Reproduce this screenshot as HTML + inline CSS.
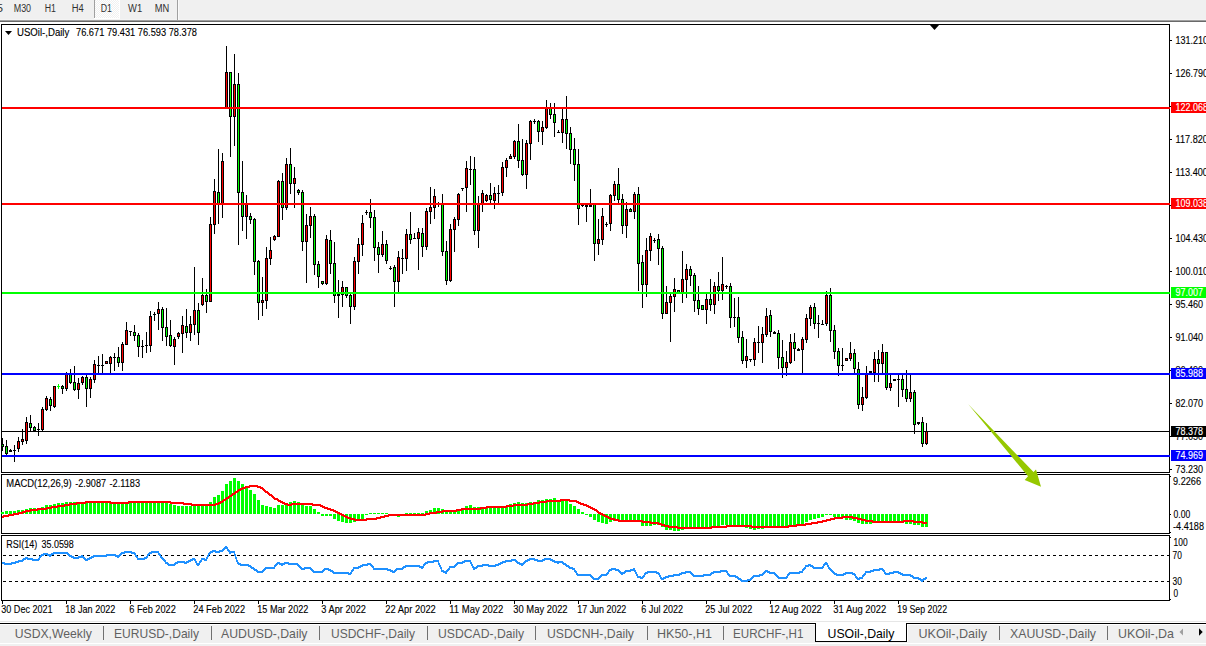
<!DOCTYPE html>
<html><head><meta charset="utf-8"><title>USOil Daily</title>
<style>html,body{margin:0;padding:0;background:#fff;overflow:hidden}body{width:1206px;height:646px;font-family:"Liberation Sans",sans-serif}</style></head>
<body>
<svg width="1206" height="646" viewBox="0 0 1206 646" font-family="Liberation Sans, sans-serif" style="display:block">
<g shape-rendering="crispEdges">
<rect x="0" y="0" width="1206" height="646" fill="#fff"/>
<rect x="0" y="0" width="1206" height="19" fill="#f0f0f0"/>
<rect x="0" y="19" width="1206" height="1" fill="#f4f4f4"/>
<rect x="0" y="20" width="1206" height="1" fill="#a0a0a0"/>
<rect x="0" y="21" width="1206" height="1" fill="#696969"/>
<defs><pattern id="dz" width="2" height="2" patternUnits="userSpaceOnUse"><rect width="2" height="2" fill="#f0f0f0"/><rect width="1" height="1" fill="#fff"/><rect x="1" y="1" width="1" height="1" fill="#fff"/></pattern></defs>
<rect x="95" y="0" width="24" height="18" fill="url(#dz)"/>
<rect x="94" y="18" width="26" height="1" fill="#fff"/>
<rect x="119" y="0" width="1" height="18" fill="#fff"/>
<rect x="94" y="0" width="1" height="18" fill="#a0a0a0"/>
<rect x="177" y="0" width="1" height="20" fill="#a0a0a0"/>
<rect x="178" y="0" width="1" height="20" fill="#fafafa"/>
<rect x="1" y="24" width="1169" height="1" fill="#000"/>
<rect x="1" y="472" width="1169" height="1" fill="#000"/>
<rect x="1" y="24" width="1" height="449" fill="#000"/>
<rect x="1169" y="24" width="1" height="449" fill="#000"/>
<rect x="1" y="474" width="1169" height="1" fill="#000"/>
<rect x="1" y="533" width="1169" height="1" fill="#000"/>
<rect x="1" y="474" width="1" height="60" fill="#000"/>
<rect x="1169" y="474" width="1" height="60" fill="#000"/>
<rect x="1" y="535" width="1169" height="1" fill="#000"/>
<rect x="1" y="600" width="1169" height="1" fill="#000"/>
<rect x="1" y="535" width="1" height="66" fill="#000"/>
<rect x="1169" y="535" width="1" height="66" fill="#000"/>
<rect x="2" y="431" width="1167" height="1" fill="#000"/>
<rect x="2" y="438" width="1" height="13" fill="#000"/>
<rect x="1" y="444" width="3" height="3" fill="#000"/>
<rect x="2" y="445" width="1" height="1" fill="#00ff00"/>
<rect x="6" y="440" width="1" height="15" fill="#000"/>
<rect x="5" y="446" width="3" height="8" fill="#000"/>
<rect x="6" y="447" width="1" height="6" fill="#00ff00"/>
<rect x="10" y="449" width="1" height="3" fill="#000"/>
<rect x="9" y="450" width="3" height="2" fill="#000"/>
<rect x="14" y="445" width="1" height="17" fill="#000"/>
<rect x="13" y="450" width="3" height="1" fill="#000"/>
<rect x="18" y="437" width="1" height="15" fill="#000"/>
<rect x="17" y="441" width="3" height="8" fill="#000"/>
<rect x="18" y="442" width="1" height="6" fill="#ff0000"/>
<rect x="22" y="429" width="1" height="16" fill="#000"/>
<rect x="21" y="439" width="3" height="3" fill="#000"/>
<rect x="22" y="440" width="1" height="1" fill="#ff0000"/>
<rect x="26" y="417" width="1" height="27" fill="#000"/>
<rect x="25" y="422" width="3" height="19" fill="#000"/>
<rect x="26" y="423" width="1" height="17" fill="#ff0000"/>
<rect x="30" y="415" width="1" height="16" fill="#000"/>
<rect x="29" y="423" width="3" height="5" fill="#000"/>
<rect x="30" y="424" width="1" height="3" fill="#00ff00"/>
<rect x="34" y="426" width="1" height="6" fill="#000"/>
<rect x="33" y="427" width="3" height="4" fill="#000"/>
<rect x="34" y="428" width="1" height="2" fill="#00ff00"/>
<rect x="38" y="423" width="1" height="13" fill="#000"/>
<rect x="37" y="429" width="3" height="1" fill="#000"/>
<rect x="42" y="407" width="1" height="24" fill="#000"/>
<rect x="41" y="409" width="3" height="21" fill="#000"/>
<rect x="42" y="410" width="1" height="19" fill="#ff0000"/>
<rect x="46" y="396" width="1" height="15" fill="#000"/>
<rect x="45" y="398" width="3" height="12" fill="#000"/>
<rect x="46" y="399" width="1" height="10" fill="#ff0000"/>
<rect x="50" y="397" width="1" height="14" fill="#000"/>
<rect x="49" y="399" width="3" height="7" fill="#000"/>
<rect x="50" y="400" width="1" height="5" fill="#00ff00"/>
<rect x="54" y="386" width="1" height="22" fill="#000"/>
<rect x="53" y="386" width="3" height="21" fill="#000"/>
<rect x="54" y="387" width="1" height="19" fill="#ff0000"/>
<rect x="58" y="384" width="1" height="5" fill="#00ff00"/>
<rect x="57" y="386" width="3" height="1" fill="#00ff00"/>
<rect x="62" y="385" width="1" height="9" fill="#000"/>
<rect x="61" y="386" width="3" height="3" fill="#000"/>
<rect x="62" y="387" width="1" height="1" fill="#00ff00"/>
<rect x="66" y="372" width="1" height="19" fill="#000"/>
<rect x="65" y="374" width="3" height="15" fill="#000"/>
<rect x="66" y="375" width="1" height="13" fill="#ff0000"/>
<rect x="70" y="369" width="1" height="15" fill="#000"/>
<rect x="69" y="374" width="3" height="9" fill="#000"/>
<rect x="70" y="375" width="1" height="7" fill="#00ff00"/>
<rect x="74" y="366" width="1" height="25" fill="#000"/>
<rect x="73" y="382" width="3" height="8" fill="#000"/>
<rect x="74" y="383" width="1" height="6" fill="#00ff00"/>
<rect x="78" y="378" width="1" height="21" fill="#000"/>
<rect x="77" y="383" width="3" height="7" fill="#000"/>
<rect x="78" y="384" width="1" height="5" fill="#ff0000"/>
<rect x="82" y="376" width="1" height="9" fill="#000"/>
<rect x="81" y="377" width="3" height="6" fill="#000"/>
<rect x="82" y="378" width="1" height="4" fill="#ff0000"/>
<rect x="86" y="374" width="1" height="33" fill="#000"/>
<rect x="85" y="377" width="3" height="12" fill="#000"/>
<rect x="86" y="378" width="1" height="10" fill="#00ff00"/>
<rect x="90" y="377" width="1" height="21" fill="#000"/>
<rect x="89" y="379" width="3" height="10" fill="#000"/>
<rect x="90" y="380" width="1" height="8" fill="#ff0000"/>
<rect x="94" y="360" width="1" height="23" fill="#000"/>
<rect x="93" y="364" width="3" height="16" fill="#000"/>
<rect x="94" y="365" width="1" height="14" fill="#ff0000"/>
<rect x="98" y="356" width="1" height="17" fill="#000"/>
<rect x="97" y="365" width="3" height="1" fill="#000"/>
<rect x="102" y="354" width="1" height="19" fill="#000"/>
<rect x="101" y="365" width="3" height="1" fill="#000"/>
<rect x="106" y="361" width="1" height="3" fill="#000"/>
<rect x="105" y="361" width="3" height="3" fill="#000"/>
<rect x="106" y="362" width="1" height="1" fill="#ff0000"/>
<rect x="110" y="356" width="1" height="17" fill="#000"/>
<rect x="109" y="357" width="3" height="7" fill="#000"/>
<rect x="110" y="358" width="1" height="5" fill="#ff0000"/>
<rect x="114" y="353" width="1" height="18" fill="#000"/>
<rect x="113" y="357" width="3" height="1" fill="#000"/>
<rect x="118" y="347" width="1" height="20" fill="#000"/>
<rect x="117" y="357" width="3" height="6" fill="#000"/>
<rect x="118" y="358" width="1" height="4" fill="#00ff00"/>
<rect x="122" y="342" width="1" height="29" fill="#000"/>
<rect x="121" y="344" width="3" height="19" fill="#000"/>
<rect x="122" y="345" width="1" height="17" fill="#ff0000"/>
<rect x="126" y="322" width="1" height="23" fill="#000"/>
<rect x="125" y="330" width="3" height="15" fill="#000"/>
<rect x="126" y="331" width="1" height="13" fill="#ff0000"/>
<rect x="130" y="331" width="1" height="5" fill="#000"/>
<rect x="129" y="331" width="3" height="1" fill="#000"/>
<rect x="134" y="325" width="1" height="16" fill="#000"/>
<rect x="133" y="332" width="3" height="4" fill="#000"/>
<rect x="134" y="333" width="1" height="2" fill="#00ff00"/>
<rect x="138" y="333" width="1" height="24" fill="#000"/>
<rect x="137" y="335" width="3" height="12" fill="#000"/>
<rect x="138" y="336" width="1" height="10" fill="#00ff00"/>
<rect x="142" y="340" width="1" height="18" fill="#000"/>
<rect x="141" y="346" width="3" height="1" fill="#000"/>
<rect x="146" y="332" width="1" height="21" fill="#000"/>
<rect x="145" y="345" width="3" height="1" fill="#000"/>
<rect x="150" y="311" width="1" height="41" fill="#000"/>
<rect x="149" y="316" width="3" height="30" fill="#000"/>
<rect x="150" y="317" width="1" height="28" fill="#ff0000"/>
<rect x="154" y="312" width="1" height="9" fill="#000"/>
<rect x="153" y="314" width="3" height="1" fill="#000"/>
<rect x="158" y="302" width="1" height="28" fill="#000"/>
<rect x="157" y="309" width="3" height="5" fill="#000"/>
<rect x="158" y="310" width="1" height="3" fill="#ff0000"/>
<rect x="162" y="307" width="1" height="34" fill="#000"/>
<rect x="161" y="309" width="3" height="19" fill="#000"/>
<rect x="162" y="310" width="1" height="17" fill="#00ff00"/>
<rect x="166" y="308" width="1" height="38" fill="#000"/>
<rect x="165" y="327" width="3" height="10" fill="#000"/>
<rect x="166" y="328" width="1" height="8" fill="#00ff00"/>
<rect x="170" y="320" width="1" height="27" fill="#000"/>
<rect x="169" y="335" width="3" height="11" fill="#000"/>
<rect x="170" y="336" width="1" height="9" fill="#00ff00"/>
<rect x="174" y="337" width="1" height="28" fill="#000"/>
<rect x="173" y="339" width="3" height="8" fill="#000"/>
<rect x="174" y="340" width="1" height="6" fill="#ff0000"/>
<rect x="178" y="332" width="1" height="7" fill="#000"/>
<rect x="177" y="333" width="3" height="4" fill="#000"/>
<rect x="178" y="334" width="1" height="2" fill="#ff0000"/>
<rect x="182" y="316" width="1" height="37" fill="#000"/>
<rect x="181" y="325" width="3" height="9" fill="#000"/>
<rect x="182" y="326" width="1" height="7" fill="#ff0000"/>
<rect x="186" y="309" width="1" height="29" fill="#000"/>
<rect x="185" y="326" width="3" height="7" fill="#000"/>
<rect x="186" y="327" width="1" height="5" fill="#00ff00"/>
<rect x="190" y="316" width="1" height="25" fill="#000"/>
<rect x="189" y="324" width="3" height="9" fill="#000"/>
<rect x="190" y="325" width="1" height="7" fill="#ff0000"/>
<rect x="194" y="267" width="1" height="68" fill="#000"/>
<rect x="193" y="310" width="3" height="15" fill="#000"/>
<rect x="194" y="311" width="1" height="13" fill="#ff0000"/>
<rect x="198" y="303" width="1" height="42" fill="#000"/>
<rect x="197" y="310" width="3" height="23" fill="#000"/>
<rect x="198" y="311" width="1" height="21" fill="#00ff00"/>
<rect x="202" y="278" width="1" height="28" fill="#000"/>
<rect x="201" y="295" width="3" height="10" fill="#000"/>
<rect x="202" y="296" width="1" height="8" fill="#ff0000"/>
<rect x="206" y="289" width="1" height="24" fill="#000"/>
<rect x="205" y="295" width="3" height="7" fill="#000"/>
<rect x="206" y="296" width="1" height="5" fill="#00ff00"/>
<rect x="210" y="217" width="1" height="85" fill="#000"/>
<rect x="209" y="224" width="3" height="78" fill="#000"/>
<rect x="210" y="225" width="1" height="76" fill="#ff0000"/>
<rect x="214" y="179" width="1" height="55" fill="#000"/>
<rect x="213" y="191" width="3" height="34" fill="#000"/>
<rect x="214" y="192" width="1" height="32" fill="#ff0000"/>
<rect x="218" y="149" width="1" height="75" fill="#000"/>
<rect x="217" y="192" width="3" height="13" fill="#000"/>
<rect x="218" y="193" width="1" height="11" fill="#00ff00"/>
<rect x="222" y="153" width="1" height="65" fill="#000"/>
<rect x="221" y="161" width="3" height="44" fill="#000"/>
<rect x="222" y="162" width="1" height="42" fill="#ff0000"/>
<rect x="226" y="46" width="1" height="62" fill="#000"/>
<rect x="225" y="72" width="3" height="36" fill="#000"/>
<rect x="226" y="73" width="1" height="34" fill="#ff0000"/>
<rect x="230" y="72" width="1" height="85" fill="#000"/>
<rect x="229" y="72" width="3" height="45" fill="#000"/>
<rect x="230" y="73" width="1" height="43" fill="#00ff00"/>
<rect x="234" y="54" width="1" height="92" fill="#000"/>
<rect x="233" y="84" width="3" height="33" fill="#000"/>
<rect x="234" y="85" width="1" height="31" fill="#ff0000"/>
<rect x="238" y="73" width="1" height="172" fill="#000"/>
<rect x="237" y="84" width="3" height="109" fill="#000"/>
<rect x="238" y="85" width="1" height="107" fill="#00ff00"/>
<rect x="242" y="161" width="1" height="70" fill="#000"/>
<rect x="241" y="192" width="3" height="25" fill="#000"/>
<rect x="242" y="193" width="1" height="23" fill="#00ff00"/>
<rect x="246" y="195" width="1" height="44" fill="#000"/>
<rect x="245" y="204" width="3" height="13" fill="#000"/>
<rect x="246" y="205" width="1" height="11" fill="#ff0000"/>
<rect x="250" y="213" width="1" height="11" fill="#000"/>
<rect x="249" y="216" width="3" height="4" fill="#000"/>
<rect x="250" y="217" width="1" height="2" fill="#00ff00"/>
<rect x="254" y="218" width="1" height="57" fill="#000"/>
<rect x="253" y="219" width="3" height="43" fill="#000"/>
<rect x="254" y="220" width="1" height="41" fill="#00ff00"/>
<rect x="258" y="260" width="1" height="60" fill="#000"/>
<rect x="257" y="261" width="3" height="42" fill="#000"/>
<rect x="258" y="262" width="1" height="40" fill="#00ff00"/>
<rect x="262" y="277" width="1" height="39" fill="#000"/>
<rect x="261" y="300" width="3" height="3" fill="#000"/>
<rect x="262" y="301" width="1" height="1" fill="#ff0000"/>
<rect x="266" y="247" width="1" height="62" fill="#000"/>
<rect x="265" y="258" width="3" height="43" fill="#000"/>
<rect x="266" y="259" width="1" height="41" fill="#ff0000"/>
<rect x="270" y="237" width="1" height="28" fill="#000"/>
<rect x="269" y="250" width="3" height="9" fill="#000"/>
<rect x="270" y="251" width="1" height="7" fill="#ff0000"/>
<rect x="274" y="235" width="1" height="6" fill="#000"/>
<rect x="273" y="236" width="3" height="4" fill="#000"/>
<rect x="274" y="237" width="1" height="2" fill="#ff0000"/>
<rect x="278" y="180" width="1" height="57" fill="#000"/>
<rect x="277" y="181" width="3" height="56" fill="#000"/>
<rect x="278" y="182" width="1" height="54" fill="#ff0000"/>
<rect x="282" y="173" width="1" height="47" fill="#000"/>
<rect x="281" y="181" width="3" height="27" fill="#000"/>
<rect x="282" y="182" width="1" height="25" fill="#00ff00"/>
<rect x="286" y="158" width="1" height="52" fill="#000"/>
<rect x="285" y="164" width="3" height="44" fill="#000"/>
<rect x="286" y="165" width="1" height="42" fill="#ff0000"/>
<rect x="290" y="148" width="1" height="46" fill="#000"/>
<rect x="289" y="164" width="3" height="20" fill="#000"/>
<rect x="290" y="165" width="1" height="18" fill="#00ff00"/>
<rect x="294" y="167" width="1" height="41" fill="#000"/>
<rect x="293" y="178" width="3" height="6" fill="#000"/>
<rect x="294" y="179" width="1" height="4" fill="#ff0000"/>
<rect x="298" y="189" width="1" height="6" fill="#000"/>
<rect x="297" y="190" width="3" height="3" fill="#000"/>
<rect x="298" y="191" width="1" height="1" fill="#00ff00"/>
<rect x="302" y="190" width="1" height="61" fill="#000"/>
<rect x="301" y="192" width="3" height="50" fill="#000"/>
<rect x="302" y="193" width="1" height="48" fill="#00ff00"/>
<rect x="306" y="214" width="1" height="69" fill="#000"/>
<rect x="305" y="225" width="3" height="17" fill="#000"/>
<rect x="306" y="226" width="1" height="15" fill="#ff0000"/>
<rect x="310" y="207" width="1" height="31" fill="#000"/>
<rect x="309" y="216" width="3" height="10" fill="#000"/>
<rect x="310" y="217" width="1" height="8" fill="#ff0000"/>
<rect x="314" y="214" width="1" height="61" fill="#000"/>
<rect x="313" y="216" width="3" height="49" fill="#000"/>
<rect x="314" y="217" width="1" height="47" fill="#00ff00"/>
<rect x="318" y="261" width="1" height="27" fill="#000"/>
<rect x="317" y="264" width="3" height="13" fill="#000"/>
<rect x="318" y="265" width="1" height="11" fill="#00ff00"/>
<rect x="322" y="281" width="1" height="4" fill="#000"/>
<rect x="321" y="281" width="3" height="3" fill="#000"/>
<rect x="322" y="282" width="1" height="1" fill="#00ff00"/>
<rect x="326" y="235" width="1" height="50" fill="#000"/>
<rect x="325" y="239" width="3" height="45" fill="#000"/>
<rect x="326" y="240" width="1" height="43" fill="#ff0000"/>
<rect x="330" y="230" width="1" height="44" fill="#000"/>
<rect x="329" y="240" width="3" height="24" fill="#000"/>
<rect x="330" y="241" width="1" height="22" fill="#00ff00"/>
<rect x="334" y="242" width="1" height="61" fill="#000"/>
<rect x="333" y="263" width="3" height="33" fill="#000"/>
<rect x="334" y="264" width="1" height="31" fill="#00ff00"/>
<rect x="338" y="280" width="1" height="38" fill="#000"/>
<rect x="337" y="294" width="3" height="2" fill="#000"/>
<rect x="342" y="281" width="1" height="26" fill="#000"/>
<rect x="341" y="287" width="3" height="8" fill="#000"/>
<rect x="342" y="288" width="1" height="6" fill="#ff0000"/>
<rect x="346" y="287" width="1" height="11" fill="#000"/>
<rect x="345" y="287" width="3" height="9" fill="#000"/>
<rect x="346" y="288" width="1" height="7" fill="#00ff00"/>
<rect x="350" y="294" width="1" height="30" fill="#000"/>
<rect x="349" y="295" width="3" height="12" fill="#000"/>
<rect x="350" y="296" width="1" height="10" fill="#00ff00"/>
<rect x="354" y="257" width="1" height="53" fill="#000"/>
<rect x="353" y="261" width="3" height="46" fill="#000"/>
<rect x="354" y="262" width="1" height="44" fill="#ff0000"/>
<rect x="358" y="238" width="1" height="36" fill="#000"/>
<rect x="357" y="244" width="3" height="18" fill="#000"/>
<rect x="358" y="245" width="1" height="16" fill="#ff0000"/>
<rect x="362" y="215" width="1" height="41" fill="#000"/>
<rect x="361" y="223" width="3" height="22" fill="#000"/>
<rect x="362" y="224" width="1" height="20" fill="#ff0000"/>
<rect x="366" y="210" width="1" height="5" fill="#000"/>
<rect x="365" y="212" width="3" height="1" fill="#000"/>
<rect x="370" y="199" width="1" height="29" fill="#000"/>
<rect x="369" y="212" width="3" height="6" fill="#000"/>
<rect x="370" y="213" width="1" height="4" fill="#00ff00"/>
<rect x="374" y="210" width="1" height="51" fill="#000"/>
<rect x="373" y="217" width="3" height="31" fill="#000"/>
<rect x="374" y="218" width="1" height="29" fill="#00ff00"/>
<rect x="378" y="242" width="1" height="31" fill="#000"/>
<rect x="377" y="247" width="3" height="8" fill="#000"/>
<rect x="378" y="248" width="1" height="6" fill="#00ff00"/>
<rect x="382" y="231" width="1" height="26" fill="#000"/>
<rect x="381" y="244" width="3" height="11" fill="#000"/>
<rect x="382" y="245" width="1" height="9" fill="#ff0000"/>
<rect x="386" y="240" width="1" height="24" fill="#000"/>
<rect x="385" y="244" width="3" height="17" fill="#000"/>
<rect x="386" y="245" width="1" height="15" fill="#00ff00"/>
<rect x="390" y="266" width="1" height="4" fill="#000"/>
<rect x="389" y="268" width="3" height="1" fill="#000"/>
<rect x="394" y="265" width="1" height="42" fill="#000"/>
<rect x="393" y="267" width="3" height="15" fill="#000"/>
<rect x="394" y="268" width="1" height="13" fill="#00ff00"/>
<rect x="398" y="251" width="1" height="42" fill="#000"/>
<rect x="397" y="257" width="3" height="25" fill="#000"/>
<rect x="398" y="258" width="1" height="23" fill="#ff0000"/>
<rect x="402" y="249" width="1" height="25" fill="#000"/>
<rect x="401" y="258" width="3" height="1" fill="#000"/>
<rect x="406" y="229" width="1" height="42" fill="#000"/>
<rect x="405" y="234" width="3" height="25" fill="#000"/>
<rect x="406" y="235" width="1" height="23" fill="#ff0000"/>
<rect x="410" y="212" width="1" height="32" fill="#000"/>
<rect x="409" y="234" width="3" height="6" fill="#000"/>
<rect x="410" y="235" width="1" height="4" fill="#00ff00"/>
<rect x="414" y="233" width="1" height="6" fill="#000"/>
<rect x="413" y="238" width="3" height="1" fill="#000"/>
<rect x="418" y="228" width="1" height="42" fill="#000"/>
<rect x="417" y="232" width="3" height="7" fill="#000"/>
<rect x="418" y="233" width="1" height="5" fill="#ff0000"/>
<rect x="422" y="228" width="1" height="29" fill="#000"/>
<rect x="421" y="233" width="3" height="14" fill="#000"/>
<rect x="422" y="234" width="1" height="12" fill="#00ff00"/>
<rect x="426" y="208" width="1" height="42" fill="#000"/>
<rect x="425" y="211" width="3" height="36" fill="#000"/>
<rect x="426" y="212" width="1" height="34" fill="#ff0000"/>
<rect x="430" y="187" width="1" height="37" fill="#000"/>
<rect x="429" y="207" width="3" height="5" fill="#000"/>
<rect x="430" y="208" width="1" height="3" fill="#ff0000"/>
<rect x="434" y="189" width="1" height="30" fill="#000"/>
<rect x="433" y="196" width="3" height="12" fill="#000"/>
<rect x="434" y="197" width="1" height="10" fill="#ff0000"/>
<rect x="438" y="202" width="1" height="5" fill="#000"/>
<rect x="437" y="204" width="3" height="1" fill="#000"/>
<rect x="442" y="194" width="1" height="62" fill="#000"/>
<rect x="441" y="204" width="3" height="48" fill="#000"/>
<rect x="442" y="205" width="1" height="46" fill="#00ff00"/>
<rect x="446" y="241" width="1" height="44" fill="#000"/>
<rect x="445" y="251" width="3" height="30" fill="#000"/>
<rect x="446" y="252" width="1" height="28" fill="#00ff00"/>
<rect x="450" y="224" width="1" height="58" fill="#000"/>
<rect x="449" y="229" width="3" height="52" fill="#000"/>
<rect x="450" y="230" width="1" height="50" fill="#ff0000"/>
<rect x="454" y="217" width="1" height="35" fill="#000"/>
<rect x="453" y="219" width="3" height="11" fill="#000"/>
<rect x="454" y="220" width="1" height="9" fill="#ff0000"/>
<rect x="458" y="193" width="1" height="33" fill="#000"/>
<rect x="457" y="194" width="3" height="26" fill="#000"/>
<rect x="458" y="195" width="1" height="24" fill="#ff0000"/>
<rect x="462" y="188" width="1" height="3" fill="#000"/>
<rect x="461" y="188" width="3" height="1" fill="#000"/>
<rect x="466" y="161" width="1" height="51" fill="#000"/>
<rect x="465" y="168" width="3" height="20" fill="#000"/>
<rect x="466" y="169" width="1" height="18" fill="#ff0000"/>
<rect x="470" y="156" width="1" height="29" fill="#000"/>
<rect x="469" y="169" width="3" height="1" fill="#000"/>
<rect x="474" y="157" width="1" height="78" fill="#000"/>
<rect x="473" y="169" width="3" height="62" fill="#000"/>
<rect x="474" y="170" width="1" height="60" fill="#00ff00"/>
<rect x="478" y="196" width="1" height="52" fill="#000"/>
<rect x="477" y="204" width="3" height="27" fill="#000"/>
<rect x="478" y="205" width="1" height="25" fill="#ff0000"/>
<rect x="482" y="190" width="1" height="22" fill="#000"/>
<rect x="481" y="193" width="3" height="11" fill="#000"/>
<rect x="482" y="194" width="1" height="9" fill="#ff0000"/>
<rect x="486" y="194" width="1" height="8" fill="#000"/>
<rect x="485" y="195" width="3" height="6" fill="#000"/>
<rect x="486" y="196" width="1" height="4" fill="#ff0000"/>
<rect x="490" y="183" width="1" height="21" fill="#000"/>
<rect x="489" y="195" width="3" height="5" fill="#000"/>
<rect x="490" y="196" width="1" height="3" fill="#00ff00"/>
<rect x="494" y="187" width="1" height="22" fill="#000"/>
<rect x="493" y="193" width="3" height="8" fill="#000"/>
<rect x="494" y="194" width="1" height="6" fill="#ff0000"/>
<rect x="498" y="185" width="1" height="19" fill="#000"/>
<rect x="497" y="193" width="3" height="1" fill="#000"/>
<rect x="502" y="162" width="1" height="34" fill="#000"/>
<rect x="501" y="167" width="3" height="26" fill="#000"/>
<rect x="502" y="168" width="1" height="24" fill="#ff0000"/>
<rect x="506" y="158" width="1" height="19" fill="#000"/>
<rect x="505" y="160" width="3" height="8" fill="#000"/>
<rect x="506" y="161" width="1" height="6" fill="#ff0000"/>
<rect x="510" y="154" width="1" height="5" fill="#000"/>
<rect x="509" y="156" width="3" height="3" fill="#000"/>
<rect x="510" y="157" width="1" height="1" fill="#ff0000"/>
<rect x="514" y="140" width="1" height="19" fill="#000"/>
<rect x="513" y="141" width="3" height="16" fill="#000"/>
<rect x="514" y="142" width="1" height="14" fill="#ff0000"/>
<rect x="518" y="124" width="1" height="44" fill="#000"/>
<rect x="517" y="141" width="3" height="20" fill="#000"/>
<rect x="518" y="142" width="1" height="18" fill="#00ff00"/>
<rect x="522" y="139" width="1" height="37" fill="#000"/>
<rect x="521" y="160" width="3" height="15" fill="#000"/>
<rect x="522" y="161" width="1" height="13" fill="#00ff00"/>
<rect x="526" y="140" width="1" height="49" fill="#000"/>
<rect x="525" y="143" width="3" height="32" fill="#000"/>
<rect x="526" y="144" width="1" height="30" fill="#ff0000"/>
<rect x="530" y="120" width="1" height="40" fill="#000"/>
<rect x="529" y="121" width="3" height="23" fill="#000"/>
<rect x="530" y="122" width="1" height="21" fill="#ff0000"/>
<rect x="534" y="119" width="1" height="5" fill="#000"/>
<rect x="533" y="121" width="3" height="1" fill="#000"/>
<rect x="538" y="120" width="1" height="22" fill="#000"/>
<rect x="537" y="121" width="3" height="11" fill="#000"/>
<rect x="538" y="122" width="1" height="9" fill="#00ff00"/>
<rect x="542" y="121" width="1" height="24" fill="#000"/>
<rect x="541" y="127" width="3" height="5" fill="#000"/>
<rect x="542" y="128" width="1" height="3" fill="#ff0000"/>
<rect x="546" y="100" width="1" height="29" fill="#000"/>
<rect x="545" y="108" width="3" height="20" fill="#000"/>
<rect x="546" y="109" width="1" height="18" fill="#ff0000"/>
<rect x="550" y="103" width="1" height="16" fill="#000"/>
<rect x="549" y="108" width="3" height="7" fill="#000"/>
<rect x="550" y="109" width="1" height="5" fill="#00ff00"/>
<rect x="554" y="103" width="1" height="34" fill="#000"/>
<rect x="553" y="114" width="3" height="9" fill="#000"/>
<rect x="554" y="115" width="1" height="7" fill="#00ff00"/>
<rect x="558" y="130" width="1" height="3" fill="#000"/>
<rect x="557" y="132" width="3" height="1" fill="#000"/>
<rect x="562" y="109" width="1" height="34" fill="#000"/>
<rect x="561" y="119" width="3" height="14" fill="#000"/>
<rect x="562" y="120" width="1" height="12" fill="#ff0000"/>
<rect x="566" y="96" width="1" height="53" fill="#000"/>
<rect x="565" y="119" width="3" height="15" fill="#000"/>
<rect x="566" y="120" width="1" height="13" fill="#00ff00"/>
<rect x="570" y="127" width="1" height="37" fill="#000"/>
<rect x="569" y="133" width="3" height="17" fill="#000"/>
<rect x="570" y="134" width="1" height="15" fill="#00ff00"/>
<rect x="574" y="138" width="1" height="43" fill="#000"/>
<rect x="573" y="149" width="3" height="16" fill="#000"/>
<rect x="574" y="150" width="1" height="14" fill="#00ff00"/>
<rect x="578" y="149" width="1" height="76" fill="#000"/>
<rect x="577" y="164" width="3" height="45" fill="#000"/>
<rect x="578" y="165" width="1" height="43" fill="#00ff00"/>
<rect x="582" y="204" width="1" height="3" fill="#000"/>
<rect x="581" y="205" width="3" height="1" fill="#000"/>
<rect x="586" y="203" width="1" height="19" fill="#000"/>
<rect x="585" y="205" width="3" height="2" fill="#000"/>
<rect x="590" y="189" width="1" height="18" fill="#000"/>
<rect x="589" y="205" width="3" height="2" fill="#000"/>
<rect x="594" y="203" width="1" height="58" fill="#000"/>
<rect x="593" y="204" width="3" height="40" fill="#000"/>
<rect x="594" y="205" width="1" height="38" fill="#00ff00"/>
<rect x="598" y="219" width="1" height="36" fill="#000"/>
<rect x="597" y="239" width="3" height="5" fill="#000"/>
<rect x="598" y="240" width="1" height="3" fill="#ff0000"/>
<rect x="602" y="208" width="1" height="37" fill="#000"/>
<rect x="601" y="216" width="3" height="24" fill="#000"/>
<rect x="602" y="217" width="1" height="22" fill="#ff0000"/>
<rect x="606" y="222" width="1" height="5" fill="#000"/>
<rect x="605" y="224" width="3" height="1" fill="#000"/>
<rect x="610" y="194" width="1" height="37" fill="#000"/>
<rect x="609" y="195" width="3" height="29" fill="#000"/>
<rect x="610" y="196" width="1" height="27" fill="#ff0000"/>
<rect x="614" y="181" width="1" height="20" fill="#000"/>
<rect x="613" y="184" width="3" height="12" fill="#000"/>
<rect x="614" y="185" width="1" height="10" fill="#ff0000"/>
<rect x="618" y="168" width="1" height="36" fill="#000"/>
<rect x="617" y="184" width="3" height="16" fill="#000"/>
<rect x="618" y="185" width="1" height="14" fill="#00ff00"/>
<rect x="622" y="194" width="1" height="40" fill="#000"/>
<rect x="621" y="199" width="3" height="27" fill="#000"/>
<rect x="622" y="200" width="1" height="25" fill="#00ff00"/>
<rect x="626" y="202" width="1" height="36" fill="#000"/>
<rect x="625" y="209" width="3" height="17" fill="#000"/>
<rect x="626" y="210" width="1" height="15" fill="#ff0000"/>
<rect x="630" y="208" width="1" height="4" fill="#000"/>
<rect x="629" y="209" width="3" height="3" fill="#000"/>
<rect x="630" y="210" width="1" height="1" fill="#00ff00"/>
<rect x="634" y="192" width="1" height="27" fill="#000"/>
<rect x="633" y="194" width="3" height="18" fill="#000"/>
<rect x="634" y="195" width="1" height="16" fill="#ff0000"/>
<rect x="638" y="187" width="1" height="104" fill="#000"/>
<rect x="637" y="194" width="3" height="70" fill="#000"/>
<rect x="638" y="195" width="1" height="68" fill="#00ff00"/>
<rect x="642" y="255" width="1" height="53" fill="#000"/>
<rect x="641" y="262" width="3" height="23" fill="#000"/>
<rect x="642" y="263" width="1" height="21" fill="#00ff00"/>
<rect x="646" y="238" width="1" height="59" fill="#000"/>
<rect x="645" y="250" width="3" height="35" fill="#000"/>
<rect x="646" y="251" width="1" height="33" fill="#ff0000"/>
<rect x="650" y="233" width="1" height="28" fill="#000"/>
<rect x="649" y="236" width="3" height="15" fill="#000"/>
<rect x="650" y="237" width="1" height="13" fill="#ff0000"/>
<rect x="654" y="238" width="1" height="5" fill="#000"/>
<rect x="653" y="240" width="3" height="1" fill="#000"/>
<rect x="658" y="234" width="1" height="31" fill="#000"/>
<rect x="657" y="239" width="3" height="10" fill="#000"/>
<rect x="658" y="240" width="1" height="8" fill="#00ff00"/>
<rect x="662" y="246" width="1" height="73" fill="#000"/>
<rect x="661" y="248" width="3" height="66" fill="#000"/>
<rect x="662" y="249" width="1" height="64" fill="#00ff00"/>
<rect x="666" y="286" width="1" height="28" fill="#000"/>
<rect x="665" y="302" width="3" height="12" fill="#000"/>
<rect x="666" y="303" width="1" height="10" fill="#ff0000"/>
<rect x="670" y="294" width="1" height="48" fill="#000"/>
<rect x="669" y="296" width="3" height="7" fill="#000"/>
<rect x="670" y="297" width="1" height="5" fill="#ff0000"/>
<rect x="674" y="278" width="1" height="34" fill="#000"/>
<rect x="673" y="289" width="3" height="8" fill="#000"/>
<rect x="674" y="290" width="1" height="6" fill="#ff0000"/>
<rect x="678" y="290" width="1" height="3" fill="#000"/>
<rect x="677" y="290" width="3" height="3" fill="#000"/>
<rect x="678" y="291" width="1" height="1" fill="#00ff00"/>
<rect x="682" y="251" width="1" height="52" fill="#000"/>
<rect x="681" y="279" width="3" height="14" fill="#000"/>
<rect x="682" y="280" width="1" height="12" fill="#ff0000"/>
<rect x="686" y="264" width="1" height="34" fill="#000"/>
<rect x="685" y="269" width="3" height="11" fill="#000"/>
<rect x="686" y="270" width="1" height="9" fill="#ff0000"/>
<rect x="690" y="266" width="1" height="20" fill="#000"/>
<rect x="689" y="269" width="3" height="7" fill="#000"/>
<rect x="690" y="270" width="1" height="5" fill="#00ff00"/>
<rect x="694" y="273" width="1" height="39" fill="#000"/>
<rect x="693" y="275" width="3" height="26" fill="#000"/>
<rect x="694" y="276" width="1" height="24" fill="#00ff00"/>
<rect x="698" y="286" width="1" height="29" fill="#000"/>
<rect x="697" y="300" width="3" height="9" fill="#000"/>
<rect x="698" y="301" width="1" height="7" fill="#00ff00"/>
<rect x="702" y="305" width="1" height="5" fill="#000"/>
<rect x="701" y="305" width="3" height="5" fill="#000"/>
<rect x="702" y="306" width="1" height="3" fill="#00ff00"/>
<rect x="706" y="294" width="1" height="30" fill="#000"/>
<rect x="705" y="299" width="3" height="11" fill="#000"/>
<rect x="706" y="300" width="1" height="9" fill="#ff0000"/>
<rect x="710" y="279" width="1" height="32" fill="#000"/>
<rect x="709" y="299" width="3" height="6" fill="#000"/>
<rect x="710" y="300" width="1" height="4" fill="#00ff00"/>
<rect x="714" y="282" width="1" height="32" fill="#000"/>
<rect x="713" y="286" width="3" height="19" fill="#000"/>
<rect x="714" y="287" width="1" height="17" fill="#ff0000"/>
<rect x="718" y="272" width="1" height="29" fill="#000"/>
<rect x="717" y="286" width="3" height="5" fill="#000"/>
<rect x="718" y="287" width="1" height="3" fill="#00ff00"/>
<rect x="722" y="257" width="1" height="43" fill="#000"/>
<rect x="721" y="284" width="3" height="7" fill="#000"/>
<rect x="722" y="285" width="1" height="5" fill="#ff0000"/>
<rect x="726" y="285" width="1" height="4" fill="#000"/>
<rect x="725" y="286" width="3" height="1" fill="#000"/>
<rect x="730" y="283" width="1" height="45" fill="#000"/>
<rect x="729" y="286" width="3" height="32" fill="#000"/>
<rect x="730" y="287" width="1" height="30" fill="#00ff00"/>
<rect x="734" y="298" width="1" height="29" fill="#000"/>
<rect x="733" y="317" width="3" height="1" fill="#000"/>
<rect x="738" y="297" width="1" height="46" fill="#000"/>
<rect x="737" y="317" width="3" height="21" fill="#000"/>
<rect x="738" y="318" width="1" height="19" fill="#00ff00"/>
<rect x="742" y="331" width="1" height="33" fill="#000"/>
<rect x="741" y="337" width="3" height="24" fill="#000"/>
<rect x="742" y="338" width="1" height="22" fill="#00ff00"/>
<rect x="746" y="339" width="1" height="29" fill="#000"/>
<rect x="745" y="356" width="3" height="5" fill="#000"/>
<rect x="746" y="357" width="1" height="3" fill="#ff0000"/>
<rect x="750" y="359" width="1" height="3" fill="#000"/>
<rect x="749" y="359" width="3" height="1" fill="#000"/>
<rect x="754" y="338" width="1" height="28" fill="#000"/>
<rect x="753" y="342" width="3" height="18" fill="#000"/>
<rect x="754" y="343" width="1" height="16" fill="#ff0000"/>
<rect x="758" y="326" width="1" height="27" fill="#000"/>
<rect x="757" y="342" width="3" height="1" fill="#000"/>
<rect x="762" y="327" width="1" height="36" fill="#000"/>
<rect x="761" y="334" width="3" height="9" fill="#000"/>
<rect x="762" y="335" width="1" height="7" fill="#ff0000"/>
<rect x="766" y="308" width="1" height="29" fill="#000"/>
<rect x="765" y="316" width="3" height="19" fill="#000"/>
<rect x="766" y="317" width="1" height="17" fill="#ff0000"/>
<rect x="770" y="310" width="1" height="27" fill="#000"/>
<rect x="769" y="315" width="3" height="17" fill="#000"/>
<rect x="770" y="316" width="1" height="15" fill="#00ff00"/>
<rect x="774" y="331" width="1" height="3" fill="#000"/>
<rect x="773" y="332" width="3" height="2" fill="#000"/>
<rect x="778" y="330" width="1" height="39" fill="#000"/>
<rect x="777" y="333" width="3" height="25" fill="#000"/>
<rect x="778" y="334" width="1" height="23" fill="#00ff00"/>
<rect x="782" y="340" width="1" height="38" fill="#000"/>
<rect x="781" y="357" width="3" height="11" fill="#000"/>
<rect x="782" y="358" width="1" height="9" fill="#00ff00"/>
<rect x="786" y="351" width="1" height="25" fill="#000"/>
<rect x="785" y="362" width="3" height="6" fill="#000"/>
<rect x="786" y="363" width="1" height="4" fill="#ff0000"/>
<rect x="790" y="334" width="1" height="30" fill="#000"/>
<rect x="789" y="342" width="3" height="21" fill="#000"/>
<rect x="790" y="343" width="1" height="19" fill="#ff0000"/>
<rect x="794" y="333" width="1" height="28" fill="#000"/>
<rect x="793" y="342" width="3" height="7" fill="#000"/>
<rect x="794" y="343" width="1" height="5" fill="#00ff00"/>
<rect x="798" y="348" width="1" height="3" fill="#000"/>
<rect x="797" y="349" width="3" height="2" fill="#000"/>
<rect x="802" y="337" width="1" height="37" fill="#000"/>
<rect x="801" y="339" width="3" height="11" fill="#000"/>
<rect x="802" y="340" width="1" height="9" fill="#ff0000"/>
<rect x="806" y="314" width="1" height="29" fill="#000"/>
<rect x="805" y="318" width="3" height="22" fill="#000"/>
<rect x="806" y="319" width="1" height="20" fill="#ff0000"/>
<rect x="810" y="305" width="1" height="21" fill="#000"/>
<rect x="809" y="307" width="3" height="12" fill="#000"/>
<rect x="810" y="308" width="1" height="10" fill="#ff0000"/>
<rect x="814" y="303" width="1" height="26" fill="#000"/>
<rect x="813" y="307" width="3" height="17" fill="#000"/>
<rect x="814" y="308" width="1" height="15" fill="#00ff00"/>
<rect x="818" y="315" width="1" height="23" fill="#000"/>
<rect x="817" y="323" width="3" height="1" fill="#000"/>
<rect x="822" y="320" width="1" height="5" fill="#000"/>
<rect x="821" y="324" width="3" height="1" fill="#000"/>
<rect x="826" y="291" width="1" height="35" fill="#000"/>
<rect x="825" y="295" width="3" height="29" fill="#000"/>
<rect x="826" y="296" width="1" height="27" fill="#ff0000"/>
<rect x="830" y="288" width="1" height="54" fill="#000"/>
<rect x="829" y="295" width="3" height="36" fill="#000"/>
<rect x="830" y="296" width="1" height="34" fill="#00ff00"/>
<rect x="834" y="325" width="1" height="34" fill="#000"/>
<rect x="833" y="330" width="3" height="22" fill="#000"/>
<rect x="834" y="331" width="1" height="20" fill="#00ff00"/>
<rect x="838" y="348" width="1" height="28" fill="#000"/>
<rect x="837" y="351" width="3" height="15" fill="#000"/>
<rect x="838" y="352" width="1" height="13" fill="#00ff00"/>
<rect x="842" y="348" width="1" height="23" fill="#000"/>
<rect x="841" y="365" width="3" height="1" fill="#000"/>
<rect x="846" y="358" width="1" height="3" fill="#000"/>
<rect x="845" y="358" width="3" height="3" fill="#000"/>
<rect x="846" y="359" width="1" height="1" fill="#ff0000"/>
<rect x="850" y="342" width="1" height="19" fill="#000"/>
<rect x="849" y="353" width="3" height="6" fill="#000"/>
<rect x="850" y="354" width="1" height="4" fill="#ff0000"/>
<rect x="854" y="349" width="1" height="24" fill="#000"/>
<rect x="853" y="353" width="3" height="16" fill="#000"/>
<rect x="854" y="354" width="1" height="14" fill="#00ff00"/>
<rect x="858" y="362" width="1" height="47" fill="#000"/>
<rect x="857" y="369" width="3" height="36" fill="#000"/>
<rect x="858" y="370" width="1" height="34" fill="#00ff00"/>
<rect x="862" y="387" width="1" height="24" fill="#000"/>
<rect x="861" y="397" width="3" height="8" fill="#000"/>
<rect x="862" y="398" width="1" height="6" fill="#ff0000"/>
<rect x="866" y="366" width="1" height="33" fill="#000"/>
<rect x="865" y="373" width="3" height="25" fill="#000"/>
<rect x="866" y="374" width="1" height="23" fill="#ff0000"/>
<rect x="870" y="371" width="1" height="2" fill="#000"/>
<rect x="869" y="371" width="3" height="2" fill="#000"/>
<rect x="874" y="352" width="1" height="30" fill="#000"/>
<rect x="873" y="359" width="3" height="14" fill="#000"/>
<rect x="874" y="360" width="1" height="12" fill="#ff0000"/>
<rect x="878" y="350" width="1" height="32" fill="#000"/>
<rect x="877" y="359" width="3" height="5" fill="#000"/>
<rect x="878" y="360" width="1" height="3" fill="#00ff00"/>
<rect x="882" y="344" width="1" height="29" fill="#000"/>
<rect x="881" y="352" width="3" height="12" fill="#000"/>
<rect x="882" y="353" width="1" height="10" fill="#ff0000"/>
<rect x="886" y="352" width="1" height="38" fill="#000"/>
<rect x="885" y="352" width="3" height="36" fill="#000"/>
<rect x="886" y="353" width="1" height="34" fill="#00ff00"/>
<rect x="890" y="375" width="1" height="16" fill="#000"/>
<rect x="889" y="383" width="3" height="5" fill="#000"/>
<rect x="890" y="384" width="1" height="3" fill="#ff0000"/>
<rect x="894" y="379" width="1" height="2" fill="#000"/>
<rect x="893" y="379" width="3" height="2" fill="#000"/>
<rect x="898" y="375" width="1" height="32" fill="#000"/>
<rect x="897" y="379" width="3" height="1" fill="#000"/>
<rect x="902" y="375" width="1" height="22" fill="#000"/>
<rect x="901" y="379" width="3" height="11" fill="#000"/>
<rect x="902" y="380" width="1" height="9" fill="#00ff00"/>
<rect x="906" y="370" width="1" height="32" fill="#000"/>
<rect x="905" y="389" width="3" height="10" fill="#000"/>
<rect x="906" y="390" width="1" height="8" fill="#00ff00"/>
<rect x="910" y="375" width="1" height="27" fill="#000"/>
<rect x="909" y="392" width="3" height="7" fill="#000"/>
<rect x="910" y="393" width="1" height="5" fill="#ff0000"/>
<rect x="914" y="390" width="1" height="44" fill="#000"/>
<rect x="913" y="392" width="3" height="33" fill="#000"/>
<rect x="914" y="393" width="1" height="31" fill="#00ff00"/>
<rect x="918" y="422" width="1" height="3" fill="#000"/>
<rect x="917" y="422" width="3" height="2" fill="#000"/>
<rect x="922" y="417" width="1" height="30" fill="#000"/>
<rect x="921" y="422" width="3" height="22" fill="#000"/>
<rect x="922" y="423" width="1" height="20" fill="#00ff00"/>
<rect x="926" y="423" width="1" height="22" fill="#000"/>
<rect x="925" y="431" width="3" height="13" fill="#000"/>
<rect x="926" y="432" width="1" height="11" fill="#ff0000"/>
<rect x="2" y="107" width="1168" height="2" fill="#ff0000"/>
<rect x="2" y="203" width="1168" height="2" fill="#ff0000"/>
<rect x="2" y="292" width="1168" height="2" fill="#00ff00"/>
<rect x="2" y="373" width="1168" height="2" fill="#0000ff"/>
<rect x="2" y="455" width="1168" height="2" fill="#0000ff"/>
<polygon points="929.5,24.5 939.5,24.5 934.5,30" fill="#000" shape-rendering="auto"/>
<polygon points="5,31 12,31 8.5,35" fill="#000" shape-rendering="auto"/>
<rect x="1" y="512" width="3" height="2" fill="#00ff00"/>
<rect x="5" y="511" width="3" height="3" fill="#00ff00"/>
<rect x="9" y="511" width="3" height="3" fill="#00ff00"/>
<rect x="13" y="511" width="3" height="3" fill="#00ff00"/>
<rect x="17" y="510" width="3" height="4" fill="#00ff00"/>
<rect x="21" y="510" width="3" height="4" fill="#00ff00"/>
<rect x="25" y="509" width="3" height="5" fill="#00ff00"/>
<rect x="29" y="508" width="3" height="6" fill="#00ff00"/>
<rect x="33" y="508" width="3" height="6" fill="#00ff00"/>
<rect x="37" y="508" width="3" height="6" fill="#00ff00"/>
<rect x="41" y="507" width="3" height="7" fill="#00ff00"/>
<rect x="45" y="505" width="3" height="9" fill="#00ff00"/>
<rect x="49" y="505" width="3" height="9" fill="#00ff00"/>
<rect x="53" y="504" width="3" height="10" fill="#00ff00"/>
<rect x="57" y="503" width="3" height="11" fill="#00ff00"/>
<rect x="61" y="503" width="3" height="11" fill="#00ff00"/>
<rect x="65" y="502" width="3" height="12" fill="#00ff00"/>
<rect x="69" y="502" width="3" height="12" fill="#00ff00"/>
<rect x="73" y="502" width="3" height="12" fill="#00ff00"/>
<rect x="77" y="502" width="3" height="12" fill="#00ff00"/>
<rect x="81" y="503" width="3" height="11" fill="#00ff00"/>
<rect x="85" y="503" width="3" height="11" fill="#00ff00"/>
<rect x="89" y="503" width="3" height="11" fill="#00ff00"/>
<rect x="93" y="503" width="3" height="11" fill="#00ff00"/>
<rect x="97" y="503" width="3" height="11" fill="#00ff00"/>
<rect x="101" y="503" width="3" height="11" fill="#00ff00"/>
<rect x="105" y="503" width="3" height="11" fill="#00ff00"/>
<rect x="109" y="503" width="3" height="11" fill="#00ff00"/>
<rect x="113" y="503" width="3" height="11" fill="#00ff00"/>
<rect x="117" y="503" width="3" height="11" fill="#00ff00"/>
<rect x="121" y="503" width="3" height="11" fill="#00ff00"/>
<rect x="125" y="503" width="3" height="11" fill="#00ff00"/>
<rect x="129" y="503" width="3" height="11" fill="#00ff00"/>
<rect x="133" y="503" width="3" height="11" fill="#00ff00"/>
<rect x="137" y="503" width="3" height="11" fill="#00ff00"/>
<rect x="141" y="503" width="3" height="11" fill="#00ff00"/>
<rect x="145" y="503" width="3" height="11" fill="#00ff00"/>
<rect x="149" y="503" width="3" height="11" fill="#00ff00"/>
<rect x="153" y="503" width="3" height="11" fill="#00ff00"/>
<rect x="157" y="503" width="3" height="11" fill="#00ff00"/>
<rect x="161" y="503" width="3" height="11" fill="#00ff00"/>
<rect x="165" y="503" width="3" height="11" fill="#00ff00"/>
<rect x="169" y="504" width="3" height="10" fill="#00ff00"/>
<rect x="173" y="505" width="3" height="9" fill="#00ff00"/>
<rect x="177" y="506" width="3" height="8" fill="#00ff00"/>
<rect x="181" y="506" width="3" height="8" fill="#00ff00"/>
<rect x="185" y="506" width="3" height="8" fill="#00ff00"/>
<rect x="189" y="506" width="3" height="8" fill="#00ff00"/>
<rect x="193" y="506" width="3" height="8" fill="#00ff00"/>
<rect x="197" y="506" width="3" height="8" fill="#00ff00"/>
<rect x="201" y="506" width="3" height="8" fill="#00ff00"/>
<rect x="205" y="506" width="3" height="8" fill="#00ff00"/>
<rect x="209" y="502" width="3" height="12" fill="#00ff00"/>
<rect x="213" y="497" width="3" height="17" fill="#00ff00"/>
<rect x="217" y="495" width="3" height="19" fill="#00ff00"/>
<rect x="221" y="491" width="3" height="23" fill="#00ff00"/>
<rect x="225" y="484" width="3" height="30" fill="#00ff00"/>
<rect x="229" y="481" width="3" height="33" fill="#00ff00"/>
<rect x="233" y="478" width="3" height="36" fill="#00ff00"/>
<rect x="237" y="481" width="3" height="33" fill="#00ff00"/>
<rect x="241" y="484" width="3" height="30" fill="#00ff00"/>
<rect x="245" y="488" width="3" height="26" fill="#00ff00"/>
<rect x="249" y="490" width="3" height="24" fill="#00ff00"/>
<rect x="253" y="494" width="3" height="20" fill="#00ff00"/>
<rect x="257" y="500" width="3" height="14" fill="#00ff00"/>
<rect x="261" y="505" width="3" height="9" fill="#00ff00"/>
<rect x="265" y="506" width="3" height="8" fill="#00ff00"/>
<rect x="269" y="507" width="3" height="7" fill="#00ff00"/>
<rect x="273" y="508" width="3" height="6" fill="#00ff00"/>
<rect x="277" y="505" width="3" height="9" fill="#00ff00"/>
<rect x="281" y="505" width="3" height="9" fill="#00ff00"/>
<rect x="285" y="504" width="3" height="10" fill="#00ff00"/>
<rect x="289" y="502" width="3" height="12" fill="#00ff00"/>
<rect x="293" y="501" width="3" height="13" fill="#00ff00"/>
<rect x="297" y="502" width="3" height="12" fill="#00ff00"/>
<rect x="301" y="505" width="3" height="9" fill="#00ff00"/>
<rect x="305" y="506" width="3" height="8" fill="#00ff00"/>
<rect x="309" y="506" width="3" height="8" fill="#00ff00"/>
<rect x="313" y="509" width="3" height="5" fill="#00ff00"/>
<rect x="317" y="512" width="3" height="2" fill="#00ff00"/>
<rect x="321" y="514" width="3" height="2" fill="#00ff00"/>
<rect x="325" y="514" width="3" height="2" fill="#00ff00"/>
<rect x="329" y="514" width="3" height="2" fill="#00ff00"/>
<rect x="333" y="514" width="3" height="5" fill="#00ff00"/>
<rect x="337" y="514" width="3" height="7" fill="#00ff00"/>
<rect x="341" y="514" width="3" height="8" fill="#00ff00"/>
<rect x="345" y="514" width="3" height="9" fill="#00ff00"/>
<rect x="349" y="514" width="3" height="9" fill="#00ff00"/>
<rect x="353" y="514" width="3" height="8" fill="#00ff00"/>
<rect x="357" y="514" width="3" height="5" fill="#00ff00"/>
<rect x="361" y="514" width="3" height="5" fill="#00ff00"/>
<rect x="365" y="514" width="3" height="1" fill="#00ff00"/>
<rect x="369" y="513" width="3" height="1" fill="#00ff00"/>
<rect x="373" y="513" width="3" height="1" fill="#00ff00"/>
<rect x="377" y="513" width="3" height="1" fill="#00ff00"/>
<rect x="381" y="513" width="3" height="1" fill="#00ff00"/>
<rect x="385" y="513" width="3" height="1" fill="#00ff00"/>
<rect x="389" y="514" width="3" height="1" fill="#00ff00"/>
<rect x="393" y="514" width="3" height="2" fill="#00ff00"/>
<rect x="397" y="514" width="3" height="3" fill="#00ff00"/>
<rect x="401" y="514" width="3" height="2" fill="#00ff00"/>
<rect x="405" y="513" width="3" height="1" fill="#00ff00"/>
<rect x="409" y="513" width="3" height="1" fill="#00ff00"/>
<rect x="413" y="513" width="3" height="1" fill="#00ff00"/>
<rect x="417" y="513" width="3" height="1" fill="#00ff00"/>
<rect x="421" y="513" width="3" height="1" fill="#00ff00"/>
<rect x="425" y="511" width="3" height="3" fill="#00ff00"/>
<rect x="429" y="510" width="3" height="4" fill="#00ff00"/>
<rect x="433" y="508" width="3" height="6" fill="#00ff00"/>
<rect x="437" y="508" width="3" height="6" fill="#00ff00"/>
<rect x="441" y="509" width="3" height="5" fill="#00ff00"/>
<rect x="445" y="512" width="3" height="2" fill="#00ff00"/>
<rect x="449" y="512" width="3" height="2" fill="#00ff00"/>
<rect x="453" y="512" width="3" height="2" fill="#00ff00"/>
<rect x="457" y="510" width="3" height="4" fill="#00ff00"/>
<rect x="461" y="508" width="3" height="6" fill="#00ff00"/>
<rect x="465" y="506" width="3" height="8" fill="#00ff00"/>
<rect x="469" y="505" width="3" height="9" fill="#00ff00"/>
<rect x="473" y="507" width="3" height="7" fill="#00ff00"/>
<rect x="477" y="507" width="3" height="7" fill="#00ff00"/>
<rect x="481" y="507" width="3" height="7" fill="#00ff00"/>
<rect x="485" y="507" width="3" height="7" fill="#00ff00"/>
<rect x="489" y="507" width="3" height="7" fill="#00ff00"/>
<rect x="493" y="507" width="3" height="7" fill="#00ff00"/>
<rect x="497" y="507" width="3" height="7" fill="#00ff00"/>
<rect x="501" y="506" width="3" height="8" fill="#00ff00"/>
<rect x="505" y="506" width="3" height="8" fill="#00ff00"/>
<rect x="509" y="504" width="3" height="10" fill="#00ff00"/>
<rect x="513" y="503" width="3" height="11" fill="#00ff00"/>
<rect x="517" y="502" width="3" height="12" fill="#00ff00"/>
<rect x="521" y="503" width="3" height="11" fill="#00ff00"/>
<rect x="525" y="503" width="3" height="11" fill="#00ff00"/>
<rect x="529" y="502" width="3" height="12" fill="#00ff00"/>
<rect x="533" y="502" width="3" height="12" fill="#00ff00"/>
<rect x="537" y="500" width="3" height="14" fill="#00ff00"/>
<rect x="541" y="500" width="3" height="14" fill="#00ff00"/>
<rect x="545" y="499" width="3" height="15" fill="#00ff00"/>
<rect x="549" y="499" width="3" height="15" fill="#00ff00"/>
<rect x="553" y="498" width="3" height="16" fill="#00ff00"/>
<rect x="557" y="501" width="3" height="13" fill="#00ff00"/>
<rect x="561" y="501" width="3" height="13" fill="#00ff00"/>
<rect x="565" y="501" width="3" height="13" fill="#00ff00"/>
<rect x="569" y="504" width="3" height="10" fill="#00ff00"/>
<rect x="573" y="506" width="3" height="8" fill="#00ff00"/>
<rect x="577" y="509" width="3" height="5" fill="#00ff00"/>
<rect x="581" y="512" width="3" height="2" fill="#00ff00"/>
<rect x="585" y="514" width="3" height="1" fill="#00ff00"/>
<rect x="589" y="514" width="3" height="3" fill="#00ff00"/>
<rect x="593" y="514" width="3" height="6" fill="#00ff00"/>
<rect x="597" y="514" width="3" height="8" fill="#00ff00"/>
<rect x="601" y="514" width="3" height="9" fill="#00ff00"/>
<rect x="605" y="514" width="3" height="10" fill="#00ff00"/>
<rect x="609" y="514" width="3" height="8" fill="#00ff00"/>
<rect x="613" y="514" width="3" height="7" fill="#00ff00"/>
<rect x="617" y="514" width="3" height="6" fill="#00ff00"/>
<rect x="621" y="514" width="3" height="6" fill="#00ff00"/>
<rect x="625" y="514" width="3" height="6" fill="#00ff00"/>
<rect x="629" y="514" width="3" height="6" fill="#00ff00"/>
<rect x="633" y="514" width="3" height="7" fill="#00ff00"/>
<rect x="637" y="514" width="3" height="8" fill="#00ff00"/>
<rect x="641" y="514" width="3" height="12" fill="#00ff00"/>
<rect x="645" y="514" width="3" height="12" fill="#00ff00"/>
<rect x="649" y="514" width="3" height="12" fill="#00ff00"/>
<rect x="653" y="514" width="3" height="11" fill="#00ff00"/>
<rect x="657" y="514" width="3" height="11" fill="#00ff00"/>
<rect x="661" y="514" width="3" height="13" fill="#00ff00"/>
<rect x="665" y="514" width="3" height="16" fill="#00ff00"/>
<rect x="669" y="514" width="3" height="16" fill="#00ff00"/>
<rect x="673" y="514" width="3" height="17" fill="#00ff00"/>
<rect x="677" y="514" width="3" height="17" fill="#00ff00"/>
<rect x="681" y="514" width="3" height="16" fill="#00ff00"/>
<rect x="685" y="514" width="3" height="15" fill="#00ff00"/>
<rect x="689" y="514" width="3" height="14" fill="#00ff00"/>
<rect x="693" y="514" width="3" height="14" fill="#00ff00"/>
<rect x="697" y="514" width="3" height="14" fill="#00ff00"/>
<rect x="701" y="514" width="3" height="13" fill="#00ff00"/>
<rect x="705" y="514" width="3" height="13" fill="#00ff00"/>
<rect x="709" y="514" width="3" height="13" fill="#00ff00"/>
<rect x="713" y="514" width="3" height="12" fill="#00ff00"/>
<rect x="717" y="514" width="3" height="12" fill="#00ff00"/>
<rect x="721" y="514" width="3" height="11" fill="#00ff00"/>
<rect x="725" y="514" width="3" height="11" fill="#00ff00"/>
<rect x="729" y="514" width="3" height="11" fill="#00ff00"/>
<rect x="733" y="514" width="3" height="11" fill="#00ff00"/>
<rect x="737" y="514" width="3" height="12" fill="#00ff00"/>
<rect x="741" y="514" width="3" height="13" fill="#00ff00"/>
<rect x="745" y="514" width="3" height="14" fill="#00ff00"/>
<rect x="749" y="514" width="3" height="15" fill="#00ff00"/>
<rect x="753" y="514" width="3" height="16" fill="#00ff00"/>
<rect x="757" y="514" width="3" height="15" fill="#00ff00"/>
<rect x="761" y="514" width="3" height="15" fill="#00ff00"/>
<rect x="765" y="514" width="3" height="13" fill="#00ff00"/>
<rect x="769" y="514" width="3" height="13" fill="#00ff00"/>
<rect x="773" y="514" width="3" height="13" fill="#00ff00"/>
<rect x="777" y="514" width="3" height="13" fill="#00ff00"/>
<rect x="781" y="514" width="3" height="13" fill="#00ff00"/>
<rect x="785" y="514" width="3" height="13" fill="#00ff00"/>
<rect x="789" y="514" width="3" height="13" fill="#00ff00"/>
<rect x="793" y="514" width="3" height="11" fill="#00ff00"/>
<rect x="797" y="514" width="3" height="11" fill="#00ff00"/>
<rect x="801" y="514" width="3" height="10" fill="#00ff00"/>
<rect x="805" y="514" width="3" height="8" fill="#00ff00"/>
<rect x="809" y="514" width="3" height="6" fill="#00ff00"/>
<rect x="813" y="514" width="3" height="5" fill="#00ff00"/>
<rect x="817" y="514" width="3" height="4" fill="#00ff00"/>
<rect x="821" y="514" width="3" height="3" fill="#00ff00"/>
<rect x="825" y="514" width="3" height="1" fill="#00ff00"/>
<rect x="829" y="514" width="3" height="1" fill="#00ff00"/>
<rect x="833" y="514" width="3" height="3" fill="#00ff00"/>
<rect x="837" y="514" width="3" height="3" fill="#00ff00"/>
<rect x="841" y="514" width="3" height="4" fill="#00ff00"/>
<rect x="845" y="514" width="3" height="6" fill="#00ff00"/>
<rect x="849" y="514" width="3" height="6" fill="#00ff00"/>
<rect x="853" y="514" width="3" height="7" fill="#00ff00"/>
<rect x="857" y="514" width="3" height="9" fill="#00ff00"/>
<rect x="861" y="514" width="3" height="10" fill="#00ff00"/>
<rect x="865" y="514" width="3" height="10" fill="#00ff00"/>
<rect x="869" y="514" width="3" height="10" fill="#00ff00"/>
<rect x="873" y="514" width="3" height="8" fill="#00ff00"/>
<rect x="877" y="514" width="3" height="8" fill="#00ff00"/>
<rect x="881" y="514" width="3" height="7" fill="#00ff00"/>
<rect x="885" y="514" width="3" height="8" fill="#00ff00"/>
<rect x="889" y="514" width="3" height="8" fill="#00ff00"/>
<rect x="893" y="514" width="3" height="9" fill="#00ff00"/>
<rect x="897" y="514" width="3" height="9" fill="#00ff00"/>
<rect x="901" y="514" width="3" height="9" fill="#00ff00"/>
<rect x="905" y="514" width="3" height="10" fill="#00ff00"/>
<rect x="909" y="514" width="3" height="10" fill="#00ff00"/>
<rect x="913" y="514" width="3" height="11" fill="#00ff00"/>
<rect x="917" y="514" width="3" height="11" fill="#00ff00"/>
<rect x="921" y="514" width="3" height="13" fill="#00ff00"/>
<rect x="925" y="514" width="3" height="13" fill="#00ff00"/>
<line x1="3" y1="555.5" x2="1169" y2="555.5" stroke="#000" stroke-width="1" stroke-dasharray="3,3"/>
<line x1="3" y1="581.5" x2="1169" y2="581.5" stroke="#000" stroke-width="1" stroke-dasharray="3,3"/>
</g>
<path d="M2 516h1v2h-1zM3 515h1v3h-1zM4 515h4v2h-4zM8 514h1v3h-1zM9 514h4v2h-4zM13 513h1v3h-1zM14 513h4v2h-4zM18 512h1v3h-1zM19 512h3v2h-3zM22 511h1v3h-1zM23 511h2v2h-2zM25 510h1v3h-1zM26 510h4v2h-4zM30 509h1v3h-1zM31 509h6v2h-6zM37 508h1v3h-1zM38 508h8v2h-8zM46 507h1v3h-1zM47 507h4v2h-4zM51 506h1v3h-1zM52 506h5v2h-5zM57 505h1v3h-1zM58 505h6v2h-6zM64 504h1v3h-1zM65 504h4v2h-4zM69 503h1v3h-1zM70 503h6v2h-6zM76 502h1v3h-1zM77 502h8v2h-8zM85 501h1v3h-1zM86 501h24v2h-24zM110 501h1v3h-1zM111 502h17v2h-17zM128 501h1v3h-1zM129 501h41v2h-41zM170 501h1v3h-1zM171 502h12v2h-12zM183 502h1v3h-1zM184 503h7v2h-7zM191 503h1v3h-1zM192 504h23v2h-23zM215 503h1v3h-1zM216 503h2v2h-2zM218 502h1v3h-1zM219 502h1v2h-1zM220 501h1v3h-1zM221 501h1v2h-1zM222 500h1v3h-1zM223 499h1v3h-1zM224 499h1v2h-1zM225 498h1v3h-1zM226 497h1v3h-1zM227 497h1v2h-1zM228 496h1v3h-1zM229 495h1v3h-1zM230 495h1v2h-1zM231 494h1v3h-1zM232 493h1v3h-1zM233 493h1v2h-1zM234 492h1v3h-1zM235 491h1v3h-1zM236 491h1v2h-1zM237 490h1v3h-1zM238 489h1v3h-1zM239 489h1v2h-1zM240 488h1v3h-1zM241 488h1v2h-1zM242 487h1v3h-1zM243 487h2v2h-2zM245 486h1v3h-1zM246 486h3v2h-3zM249 485h1v3h-1zM250 485h7v2h-7zM257 485h1v3h-1zM258 486h2v2h-2zM260 486h1v3h-1zM261 487h1v2h-1zM262 487h1v3h-1zM263 488h1v3h-1zM264 489h1v3h-1zM265 490h1v3h-1zM266 491h1v2h-1zM267 491h1v3h-1zM268 492h1v3h-1zM269 493h1v3h-1zM270 494h1v2h-1zM271 494h1v3h-1zM272 495h1v3h-1zM273 496h1v3h-1zM274 497h1v3h-1zM275 498h2v2h-2zM277 498h1v3h-1zM278 499h1v3h-1zM279 500h1v2h-1zM280 500h1v3h-1zM281 501h1v2h-1zM282 501h1v3h-1zM283 502h1v2h-1zM284 502h1v3h-1zM285 503h2v2h-2zM287 503h1v3h-1zM288 504h3v2h-3zM291 503h1v3h-1zM292 503h20v2h-20zM312 503h1v3h-1zM313 504h7v2h-7zM320 504h1v3h-1zM321 505h1v2h-1zM322 505h1v3h-1zM323 506h1v2h-1zM324 506h1v3h-1zM325 507h2v2h-2zM327 507h1v3h-1zM328 508h2v2h-2zM330 508h1v3h-1zM331 509h2v2h-2zM333 509h1v3h-1zM334 510h1v2h-1zM335 510h1v3h-1zM336 511h1v2h-1zM337 511h1v3h-1zM338 512h1v2h-1zM339 512h1v3h-1zM340 513h1v2h-1zM341 513h1v3h-1zM342 514h1v2h-1zM343 514h1v3h-1zM344 515h1v2h-1zM345 515h1v3h-1zM346 516h1v2h-1zM347 516h1v3h-1zM348 517h2v2h-2zM350 517h1v3h-1zM351 518h3v2h-3zM354 518h1v3h-1zM355 519h11v2h-11zM366 518h1v3h-1zM367 518h9v2h-9zM376 517h1v3h-1zM377 517h3v2h-3zM380 516h1v3h-1zM381 516h3v2h-3zM384 515h1v3h-1zM385 515h3v2h-3zM388 514h1v3h-1zM389 514h36v2h-36zM425 513h1v3h-1zM426 513h3v2h-3zM429 512h1v3h-1zM430 512h6v2h-6zM436 511h1v3h-1zM437 511h5v2h-5zM442 510h1v3h-1zM443 510h13v2h-13zM456 509h1v3h-1zM457 509h4v2h-4zM461 508h1v3h-1zM462 508h18v2h-18zM480 507h1v3h-1zM481 507h5v2h-5zM486 506h1v3h-1zM487 506h19v2h-19zM506 505h1v3h-1zM507 505h6v2h-6zM513 504h1v3h-1zM514 504h13v2h-13zM527 503h1v3h-1zM528 503h5v2h-5zM533 502h1v3h-1zM534 502h5v2h-5zM539 501h1v3h-1zM540 501h6v2h-6zM546 500h1v3h-1zM547 500h13v2h-13zM560 499h1v3h-1zM561 499h8v2h-8zM569 499h1v3h-1zM570 500h6v2h-6zM576 500h1v3h-1zM577 501h1v2h-1zM578 501h1v3h-1zM579 502h1v2h-1zM580 502h1v3h-1zM581 503h2v2h-2zM583 503h1v3h-1zM584 504h2v2h-2zM586 504h1v3h-1zM587 505h1v2h-1zM588 505h1v3h-1zM589 506h1v2h-1zM590 506h1v3h-1zM591 507h1v2h-1zM592 507h1v3h-1zM593 508h1v2h-1zM594 508h1v3h-1zM595 509h1v2h-1zM596 509h1v3h-1zM597 510h1v3h-1zM598 511h1v3h-1zM599 512h1v2h-1zM600 512h1v3h-1zM601 513h1v2h-1zM602 513h1v3h-1zM603 514h1v2h-1zM604 514h1v3h-1zM605 515h1v2h-1zM606 515h1v3h-1zM607 516h1v2h-1zM608 516h1v3h-1zM609 517h1v2h-1zM610 517h1v3h-1zM611 518h3v2h-3zM614 518h1v3h-1zM615 519h3v2h-3zM618 519h1v3h-1zM619 520h23v2h-23zM642 520h1v3h-1zM643 521h7v2h-7zM650 521h1v3h-1zM651 522h7v2h-7zM658 522h1v3h-1zM659 523h2v2h-2zM661 523h1v3h-1zM662 524h2v2h-2zM664 524h1v3h-1zM665 525h3v2h-3zM668 525h1v3h-1zM669 526h8v2h-8zM677 526h1v3h-1zM678 527h33v2h-33zM711 526h1v3h-1zM712 526h14v2h-14zM726 525h1v3h-1zM727 525h24v2h-24zM751 525h1v3h-1zM752 526h36v2h-36zM788 525h1v3h-1zM789 525h7v2h-7zM796 524h1v3h-1zM797 524h8v2h-8zM805 523h1v3h-1zM806 523h5v2h-5zM811 522h1v3h-1zM812 522h5v2h-5zM817 521h1v3h-1zM818 521h4v2h-4zM822 520h1v3h-1zM823 520h3v2h-3zM826 519h1v3h-1zM827 519h3v2h-3zM830 518h1v3h-1zM831 518h3v2h-3zM834 517h1v3h-1zM835 517h7v2h-7zM842 516h1v3h-1zM843 516h9v2h-9zM852 516h1v3h-1zM853 517h4v2h-4zM857 517h1v3h-1zM858 518h3v2h-3zM861 518h1v3h-1zM862 519h3v2h-3zM865 519h1v3h-1zM866 520h6v2h-6zM872 520h1v3h-1zM873 521h30v2h-30zM903 520h1v3h-1zM904 520h9v2h-9zM913 520h1v3h-1zM914 521h8v2h-8zM922 521h1v3h-1zM923 522h4v2h-4z" fill="#ff0000" shape-rendering="crispEdges"/>
<path d="M2 562h2v2h-2zM4 562h1v3h-1zM5 563h6v2h-6zM11 562h1v3h-1zM12 562h3v2h-3zM15 561h1v3h-1zM16 561h2v2h-2zM18 560h1v3h-1zM19 560h3v2h-3zM22 559h1v3h-1zM23 558h1v3h-1zM24 558h1v2h-1zM25 557h1v3h-1zM26 557h1v2h-1zM27 557h1v3h-1zM28 558h4v2h-4zM32 558h1v3h-1zM33 559h5v2h-5zM38 558h1v3h-1zM39 556h1v4h-1zM40 555h1v3h-1zM41 554h1v3h-1zM42 554h1v2h-1zM43 553h1v3h-1zM44 553h3v2h-3zM47 553h1v3h-1zM48 554h1v2h-1zM49 554h2v3h-2zM51 553h1v3h-1zM52 553h1v2h-1zM53 552h1v3h-1zM54 552h13v2h-13zM67 552h1v3h-1zM68 553h1v3h-1zM69 554h1v3h-1zM70 555h1v2h-1zM71 555h1v3h-1zM72 556h1v2h-1zM73 556h1v3h-1zM74 557h4v2h-4zM78 556h1v3h-1zM79 556h2v2h-2zM81 555h2v3h-2zM83 556h1v3h-1zM84 557h1v3h-1zM85 558h1v3h-1zM86 559h1v2h-1zM87 558h1v3h-1zM88 558h1v2h-1zM89 557h1v3h-1zM90 557h1v2h-1zM91 556h1v3h-1zM92 556h1v2h-1zM93 555h1v3h-1zM94 555h12v2h-12zM106 554h1v3h-1zM107 554h8v2h-8zM115 554h1v3h-1zM116 555h1v2h-1zM117 555h2v3h-2zM119 554h1v3h-1zM120 553h1v3h-1zM121 552h1v3h-1zM122 552h2v2h-2zM124 551h1v3h-1zM125 551h6v2h-6zM131 551h1v3h-1zM132 552h2v2h-2zM134 552h1v3h-1zM135 553h1v4h-1zM136 555h1v3h-1zM137 556h1v4h-1zM138 558h6v2h-6zM144 557h1v3h-1zM145 557h1v2h-1zM146 556h1v3h-1zM147 554h1v4h-1zM148 553h1v3h-1zM149 552h1v3h-1zM150 552h1v2h-1zM151 551h1v3h-1zM152 551h6v2h-6zM158 551h1v4h-1zM159 553h1v3h-1zM160 554h1v4h-1zM161 556h1v3h-1zM162 557h1v3h-1zM163 558h1v3h-1zM164 559h1v3h-1zM165 560h1v4h-1zM166 562h1v2h-1zM167 562h1v3h-1zM168 563h1v3h-1zM169 564h5v2h-5zM174 563h1v3h-1zM175 562h1v3h-1zM176 562h1v2h-1zM177 561h1v3h-1zM178 561h6v2h-6zM184 561h1v3h-1zM185 562h1v2h-1zM186 561h1v3h-1zM187 561h1v2h-1zM188 560h1v3h-1zM189 560h1v2h-1zM190 559h1v3h-1zM191 559h1v2h-1zM192 558h1v3h-1zM193 558h1v2h-1zM194 558h1v3h-1zM195 559h1v4h-1zM196 561h1v4h-1zM197 563h2v3h-2zM199 561h1v4h-1zM200 560h1v3h-1zM201 558h1v4h-1zM202 558h2v2h-2zM204 558h1v3h-1zM205 559h1v2h-1zM206 557h1v4h-1zM207 555h1v4h-1zM208 553h1v4h-1zM209 552h1v3h-1zM210 551h1v3h-1zM211 551h1v2h-1zM212 550h1v3h-1zM213 550h2v2h-2zM215 550h1v3h-1zM216 551h3v2h-3zM219 550h1v3h-1zM220 550h2v2h-2zM222 549h1v3h-1zM223 548h1v3h-1zM224 547h1v3h-1zM225 546h2v3h-2zM227 547h1v4h-1zM228 549h1v3h-1zM229 550h1v4h-1zM230 551h1v3h-1zM231 551h3v2h-3zM234 551h1v5h-1zM235 554h1v5h-1zM236 557h1v5h-1zM237 560h1v4h-1zM238 562h1v3h-1zM239 563h1v2h-1zM240 563h1v3h-1zM241 564h7v2h-7zM248 564h1v3h-1zM249 565h1v2h-1zM250 565h1v3h-1zM251 566h1v3h-1zM252 567h1v2h-1zM253 567h1v3h-1zM254 568h1v3h-1zM255 569h1v2h-1zM256 569h1v3h-1zM257 570h1v3h-1zM258 571h4v2h-4zM262 570h1v3h-1zM263 569h1v3h-1zM264 568h1v3h-1zM265 567h1v3h-1zM266 567h8v2h-8zM274 565h1v4h-1zM275 564h1v3h-1zM276 563h1v3h-1zM277 562h1v3h-1zM278 562h1v2h-1zM279 562h1v3h-1zM280 563h1v2h-1zM281 563h2v3h-2zM283 563h1v2h-1zM284 562h1v3h-1zM285 562h3v2h-3zM288 562h1v3h-1zM289 563h8v2h-8zM297 563h1v3h-1zM298 564h1v3h-1zM299 565h1v3h-1zM300 566h1v3h-1zM301 567h1v3h-1zM302 568h2v2h-2zM304 567h1v3h-1zM305 567h5v2h-5zM310 567h1v3h-1zM311 568h1v3h-1zM312 569h1v3h-1zM313 570h1v3h-1zM314 571h8v2h-8zM322 570h1v3h-1zM323 569h1v3h-1zM324 568h1v3h-1zM325 568h3v2h-3zM328 568h1v3h-1zM329 569h1v2h-1zM330 569h1v3h-1zM331 570h1v2h-1zM332 570h1v3h-1zM333 571h1v3h-1zM334 572h14v2h-14zM348 572h1v3h-1zM349 573h1v2h-1zM350 572h1v3h-1zM351 570h1v4h-1zM352 569h1v3h-1zM353 567h1v4h-1zM354 567h4v2h-4zM358 566h1v3h-1zM359 566h1v2h-1zM360 565h1v3h-1zM361 565h1v2h-1zM362 564h1v3h-1zM363 564h4v2h-4zM367 563h1v3h-1zM368 563h2v2h-2zM370 563h1v3h-1zM371 564h1v3h-1zM372 565h1v3h-1zM373 566h1v4h-1zM374 568h13v2h-13zM387 568h1v3h-1zM388 569h2v2h-2zM390 569h1v3h-1zM391 570h1v2h-1zM392 570h1v3h-1zM393 571h1v2h-1zM394 570h1v3h-1zM395 569h1v3h-1zM396 568h1v3h-1zM397 568h5v2h-5zM402 567h1v3h-1zM403 566h1v3h-1zM404 566h1v2h-1zM405 565h1v3h-1zM406 565h13v2h-13zM419 565h1v3h-1zM420 566h1v2h-1zM421 566h2v3h-2zM423 564h1v4h-1zM424 563h1v3h-1zM425 562h1v3h-1zM426 562h1v2h-1zM427 561h1v3h-1zM428 561h5v2h-5zM433 560h1v3h-1zM434 560h4v2h-4zM438 560h1v5h-1zM439 563h1v4h-1zM440 565h1v4h-1zM441 567h1v5h-1zM442 570h1v2h-1zM443 570h1v3h-1zM444 571h1v2h-1zM445 571h1v3h-1zM446 570h1v4h-1zM447 569h1v3h-1zM448 568h1v3h-1zM449 566h1v4h-1zM450 566h4v2h-4zM454 565h1v3h-1zM455 564h1v3h-1zM456 563h1v3h-1zM457 562h1v3h-1zM458 562h4v2h-4zM462 561h1v3h-1zM463 561h1v2h-1zM464 560h1v3h-1zM465 560h5v2h-5zM470 560h1v4h-1zM471 562h1v4h-1zM472 564h1v4h-1zM473 566h1v4h-1zM474 567h1v3h-1zM475 567h1v2h-1zM476 566h1v3h-1zM477 565h1v3h-1zM478 565h4v2h-4zM482 564h1v3h-1zM483 564h5v2h-5zM488 564h1v3h-1zM489 565h6v2h-6zM495 564h1v3h-1zM496 564h2v2h-2zM498 563h1v3h-1zM499 563h1v2h-1zM500 562h1v3h-1zM501 562h1v2h-1zM502 561h1v3h-1zM503 561h2v2h-2zM505 560h1v3h-1zM506 560h5v2h-5zM511 559h1v3h-1zM512 559h3v2h-3zM515 559h1v3h-1zM516 560h1v3h-1zM517 561h1v3h-1zM518 562h1v2h-1zM519 562h1v3h-1zM520 563h1v2h-1zM521 563h2v3h-2zM523 562h1v3h-1zM524 561h1v3h-1zM525 560h1v3h-1zM526 560h1v2h-1zM527 559h1v3h-1zM528 559h1v2h-1zM529 558h1v3h-1zM530 558h4v2h-4zM534 558h1v3h-1zM535 559h2v2h-2zM537 559h1v3h-1zM538 560h4v2h-4zM542 559h1v3h-1zM543 559h1v2h-1zM544 558h1v3h-1zM545 558h5v2h-5zM550 558h1v3h-1zM551 559h1v2h-1zM552 559h1v3h-1zM553 560h1v2h-1zM554 560h1v3h-1zM555 561h2v2h-2zM557 561h2v3h-2zM559 561h3v2h-3zM562 561h1v3h-1zM563 562h1v3h-1zM564 563h1v2h-1zM565 563h1v3h-1zM566 564h1v3h-1zM567 565h1v2h-1zM568 565h1v3h-1zM569 566h1v3h-1zM570 567h2v2h-2zM572 567h1v3h-1zM573 568h1v2h-1zM574 568h1v4h-1zM575 570h1v3h-1zM576 571h1v4h-1zM577 573h1v3h-1zM578 574h12v2h-12zM590 574h1v3h-1zM591 575h1v3h-1zM592 576h1v3h-1zM593 577h1v3h-1zM594 578h4v2h-4zM598 577h1v3h-1zM599 576h1v3h-1zM600 575h1v3h-1zM601 574h1v3h-1zM602 574h4v2h-4zM606 573h1v3h-1zM607 572h1v3h-1zM608 570h1v4h-1zM609 569h1v3h-1zM610 569h1v2h-1zM611 568h1v3h-1zM612 568h3v2h-3zM615 568h1v3h-1zM616 569h2v2h-2zM618 569h1v3h-1zM619 570h1v3h-1zM620 571h1v3h-1zM621 572h2v3h-2zM623 572h1v2h-1zM624 571h1v3h-1zM625 570h1v3h-1zM626 570h4v2h-4zM630 569h1v3h-1zM631 569h2v2h-2zM633 568h1v3h-1zM634 568h1v4h-1zM635 570h1v4h-1zM636 572h1v4h-1zM637 574h1v4h-1zM638 576h2v2h-2zM640 576h1v3h-1zM641 577h1v2h-1zM642 576h1v3h-1zM643 575h1v3h-1zM644 573h1v4h-1zM645 572h1v3h-1zM646 572h1v2h-1zM647 571h1v3h-1zM648 571h8v2h-8zM656 571h1v3h-1zM657 572h1v2h-1zM658 572h1v3h-1zM659 573h1v4h-1zM660 575h1v4h-1zM661 577h1v3h-1zM662 578h1v2h-1zM663 577h1v3h-1zM664 577h1v2h-1zM665 576h1v3h-1zM666 576h2v2h-2zM668 575h1v3h-1zM669 575h4v2h-4zM673 574h1v3h-1zM674 574h5v2h-5zM679 573h1v3h-1zM680 573h1v2h-1zM681 572h1v3h-1zM682 572h3v2h-3zM685 571h1v3h-1zM686 571h4v2h-4zM690 571h1v3h-1zM691 572h1v3h-1zM692 573h1v3h-1zM693 574h1v3h-1zM694 575h9v2h-9zM703 574h1v3h-1zM704 574h6v2h-6zM710 573h1v3h-1zM711 572h1v3h-1zM712 572h1v2h-1zM713 571h1v3h-1zM714 571h6v2h-6zM720 570h1v3h-1zM721 570h5v2h-5zM726 570h1v3h-1zM727 571h1v4h-1zM728 573h1v3h-1zM729 574h1v3h-1zM730 575h5v2h-5zM735 575h1v3h-1zM736 576h1v2h-1zM737 576h1v3h-1zM738 577h1v3h-1zM739 578h1v2h-1zM740 578h1v3h-1zM741 579h1v3h-1zM742 580h5v2h-5zM747 579h1v3h-1zM748 579h2v2h-2zM750 578h1v3h-1zM751 577h1v3h-1zM752 576h1v3h-1zM753 575h1v3h-1zM754 575h5v2h-5zM759 574h1v3h-1zM760 574h2v2h-2zM762 573h1v3h-1zM763 572h1v3h-1zM764 571h1v3h-1zM765 570h1v3h-1zM766 570h1v2h-1zM767 570h1v3h-1zM768 571h1v2h-1zM769 571h1v3h-1zM770 572h4v2h-4zM774 572h1v3h-1zM775 573h1v3h-1zM776 574h1v3h-1zM777 575h1v3h-1zM778 576h1v3h-1zM779 577h7v2h-7zM786 576h1v3h-1zM787 574h1v4h-1zM788 573h1v3h-1zM789 572h1v3h-1zM790 572h9v2h-9zM799 571h1v3h-1zM800 571h2v2h-2zM802 569h1v4h-1zM803 568h1v3h-1zM804 567h1v3h-1zM805 565h1v4h-1zM806 565h2v2h-2zM808 564h1v3h-1zM809 564h1v2h-1zM810 564h1v3h-1zM811 565h1v2h-1zM812 565h1v3h-1zM813 566h1v3h-1zM814 567h8v2h-8zM822 566h1v3h-1zM823 564h1v4h-1zM824 563h1v3h-1zM825 562h2v3h-2zM827 563h1v4h-1zM828 565h1v4h-1zM829 567h1v3h-1zM830 568h1v3h-1zM831 569h1v3h-1zM832 570h1v3h-1zM833 571h1v3h-1zM834 572h1v3h-1zM835 573h1v2h-1zM836 573h1v3h-1zM837 574h6v2h-6zM843 573h1v3h-1zM844 573h1v2h-1zM845 572h1v3h-1zM846 572h6v2h-6zM852 572h1v3h-1zM853 573h1v2h-1zM854 573h1v3h-1zM855 574h1v4h-1zM856 576h1v3h-1zM857 577h1v3h-1zM858 578h1v2h-1zM859 577h1v3h-1zM860 577h2v2h-2zM862 575h1v4h-1zM863 574h1v3h-1zM864 573h1v3h-1zM865 571h1v4h-1zM866 571h4v2h-4zM870 570h1v3h-1zM871 570h2v2h-2zM873 569h1v3h-1zM874 569h5v2h-5zM879 568h1v3h-1zM880 568h2v2h-2zM882 568h1v3h-1zM883 569h1v3h-1zM884 570h1v4h-1zM885 572h1v3h-1zM886 573h3v2h-3zM889 572h1v3h-1zM890 572h3v2h-3zM893 571h1v3h-1zM894 571h4v2h-4zM898 571h1v3h-1zM899 572h1v2h-1zM900 572h1v3h-1zM901 573h1v2h-1zM902 573h1v3h-1zM903 574h7v2h-7zM910 574h1v3h-1zM911 575h1v2h-1zM912 575h1v3h-1zM913 576h1v3h-1zM914 577h4v2h-4zM918 577h1v3h-1zM919 578h1v2h-1zM920 578h1v3h-1zM921 579h2v3h-2zM923 578h1v3h-1zM924 578h1v2h-1zM925 577h1v3h-1zM926 577h1v2h-1z" fill="#1e90ff" shape-rendering="crispEdges"/>
<polygon points="968.3,404.3 1033.5,472 1036,469.5 1041,486.7 1024.7,480 1028,476.3" fill="#96c800"/>
<g shape-rendering="crispEdges">
<rect x="1170" y="40" width="2" height="1" fill="#000"/>
<rect x="1170" y="73" width="2" height="1" fill="#000"/>
<rect x="1170" y="106" width="2" height="1" fill="#000"/>
<rect x="1170" y="139" width="2" height="1" fill="#000"/>
<rect x="1170" y="172" width="2" height="1" fill="#000"/>
<rect x="1170" y="205" width="2" height="1" fill="#000"/>
<rect x="1170" y="238" width="2" height="1" fill="#000"/>
<rect x="1170" y="271" width="2" height="1" fill="#000"/>
<rect x="1170" y="304" width="2" height="1" fill="#000"/>
<rect x="1170" y="337" width="2" height="1" fill="#000"/>
<rect x="1170" y="370" width="2" height="1" fill="#000"/>
<rect x="1170" y="403" width="2" height="1" fill="#000"/>
<rect x="1170" y="436" width="2" height="1" fill="#000"/>
<rect x="1170" y="469" width="2" height="1" fill="#000"/>
<rect x="1170" y="476" width="1" height="1" fill="#000"/>
<rect x="1170" y="514" width="1" height="1" fill="#000"/>
<rect x="1170" y="532" width="1" height="1" fill="#000"/>
<rect x="1170" y="537" width="1" height="1" fill="#000"/>
<rect x="1170" y="599" width="1" height="1" fill="#000"/>
</g>
<text x="1175.5" y="44" font-size="10" fill="#000" stroke="#000" stroke-width="0.12" textLength="32.4" lengthAdjust="spacingAndGlyphs" >131.210</text>
<text x="1175.5" y="77" font-size="10" fill="#000" stroke="#000" stroke-width="0.12" textLength="32.4" lengthAdjust="spacingAndGlyphs" >126.790</text>
<text x="1175.5" y="110" font-size="10" fill="#000" stroke="#000" stroke-width="0.12" textLength="32.4" lengthAdjust="spacingAndGlyphs" >122.370</text>
<text x="1175.5" y="143" font-size="10" fill="#000" stroke="#000" stroke-width="0.12" textLength="32.4" lengthAdjust="spacingAndGlyphs" >117.820</text>
<text x="1175.5" y="176" font-size="10" fill="#000" stroke="#000" stroke-width="0.12" textLength="32.4" lengthAdjust="spacingAndGlyphs" >113.400</text>
<text x="1175.5" y="209" font-size="10" fill="#000" stroke="#000" stroke-width="0.12" textLength="32.4" lengthAdjust="spacingAndGlyphs" >108.980</text>
<text x="1175.5" y="242" font-size="10" fill="#000" stroke="#000" stroke-width="0.12" textLength="32.4" lengthAdjust="spacingAndGlyphs" >104.430</text>
<text x="1175.5" y="275" font-size="10" fill="#000" stroke="#000" stroke-width="0.12" textLength="32.4" lengthAdjust="spacingAndGlyphs" >100.010</text>
<text x="1175.5" y="308" font-size="10" fill="#000" stroke="#000" stroke-width="0.12" textLength="27.6" lengthAdjust="spacingAndGlyphs" >95.460</text>
<text x="1175.5" y="341" font-size="10" fill="#000" stroke="#000" stroke-width="0.12" textLength="27.6" lengthAdjust="spacingAndGlyphs" >91.040</text>
<text x="1175.5" y="374" font-size="10" fill="#000" stroke="#000" stroke-width="0.12" textLength="27.6" lengthAdjust="spacingAndGlyphs" >86.490</text>
<text x="1175.5" y="407" font-size="10" fill="#000" stroke="#000" stroke-width="0.12" textLength="27.6" lengthAdjust="spacingAndGlyphs" >82.070</text>
<text x="1175.5" y="440" font-size="10" fill="#000" stroke="#000" stroke-width="0.12" textLength="27.6" lengthAdjust="spacingAndGlyphs" >77.650</text>
<text x="1175.5" y="473" font-size="10" fill="#000" stroke="#000" stroke-width="0.12" textLength="27.6" lengthAdjust="spacingAndGlyphs" >73.230</text>
<g shape-rendering="crispEdges">
<rect x="1171" y="102" width="35" height="11" fill="#ff0000"/>
<rect x="1171" y="198" width="35" height="11" fill="#ff0000"/>
<rect x="1171" y="287" width="35" height="11" fill="#00ff00"/>
<rect x="1171" y="368" width="35" height="11" fill="#0000ff"/>
<rect x="1171" y="426" width="35" height="11" fill="#000"/>
<rect x="1171" y="450" width="35" height="11" fill="#0000ff"/>
</g>
<text x="1175.5" y="111" font-size="10" fill="#fff" stroke="#fff" stroke-width="0.12" textLength="32.4" lengthAdjust="spacingAndGlyphs" >122.068</text>
<text x="1175.5" y="207" font-size="10" fill="#fff" stroke="#fff" stroke-width="0.12" textLength="32.4" lengthAdjust="spacingAndGlyphs" >109.038</text>
<text x="1175.5" y="296" font-size="10" fill="#fff" stroke="#fff" stroke-width="0.12" textLength="27.6" lengthAdjust="spacingAndGlyphs" >97.007</text>
<text x="1175.5" y="377" font-size="10" fill="#fff" stroke="#fff" stroke-width="0.12" textLength="27.6" lengthAdjust="spacingAndGlyphs" >85.988</text>
<text x="1175.5" y="435" font-size="10" fill="#fff" stroke="#fff" stroke-width="0.12" textLength="27.6" lengthAdjust="spacingAndGlyphs" >78.378</text>
<text x="1175.5" y="459" font-size="10" fill="#fff" stroke="#fff" stroke-width="0.12" textLength="27.6" lengthAdjust="spacingAndGlyphs" >74.969</text>
<text x="1173" y="485" font-size="10" fill="#000" stroke="#000" stroke-width="0.12" textLength="28" lengthAdjust="spacingAndGlyphs" >9.2266</text>
<text x="1173.5" y="518" font-size="10" fill="#000" stroke="#000" stroke-width="0.12" textLength="16.7" lengthAdjust="spacingAndGlyphs" >0.00</text>
<text x="1173" y="530" font-size="10" fill="#000" stroke="#000" stroke-width="0.12" textLength="31" lengthAdjust="spacingAndGlyphs" >-4.4188</text>
<text x="1173.6" y="546" font-size="10" fill="#000" stroke="#000" stroke-width="0.12" textLength="14" lengthAdjust="spacingAndGlyphs" >100</text>
<text x="1172.5" y="559" font-size="10" fill="#000" stroke="#000" stroke-width="0.12" textLength="9.3" lengthAdjust="spacingAndGlyphs" >70</text>
<text x="1172.5" y="585" font-size="10" fill="#000" stroke="#000" stroke-width="0.12" textLength="9.3" lengthAdjust="spacingAndGlyphs" >30</text>
<text x="1173.5" y="597" font-size="10" fill="#000" stroke="#000" stroke-width="0.12" textLength="4.6" lengthAdjust="spacingAndGlyphs" >0</text>
<text x="17" y="36" font-size="10" fill="#000" stroke="#000" stroke-width="0.12" textLength="52.3" lengthAdjust="spacingAndGlyphs" >USOil-,Daily</text>
<text x="76" y="36" font-size="10" fill="#000" stroke="#000" stroke-width="0.12" textLength="121" lengthAdjust="spacingAndGlyphs" >76.671 79.431 76.593 78.378</text>
<text x="6.3" y="487" font-size="10" fill="#000" stroke="#000" stroke-width="0.12" textLength="65.4" lengthAdjust="spacingAndGlyphs" >MACD(12,26,9)</text>
<text x="75.2" y="487" font-size="10" fill="#000" stroke="#000" stroke-width="0.12" textLength="30.8" lengthAdjust="spacingAndGlyphs" >-2.9087</text>
<text x="109.5" y="487" font-size="10" fill="#000" stroke="#000" stroke-width="0.12" textLength="30.5" lengthAdjust="spacingAndGlyphs" >-2.1183</text>
<text x="6.3" y="548" font-size="10" fill="#000" stroke="#000" stroke-width="0.12" textLength="31" lengthAdjust="spacingAndGlyphs" >RSI(14)</text>
<text x="41.5" y="548" font-size="10" fill="#000" stroke="#000" stroke-width="0.12" textLength="32.3" lengthAdjust="spacingAndGlyphs" >35.0598</text>
<g style="opacity:0.999">
<text x="-3.5" y="12" font-size="10" fill="#303030" textLength="6.5" lengthAdjust="spacingAndGlyphs" >5</text>
<text x="13.7" y="12" font-size="10" fill="#303030" textLength="17.4" lengthAdjust="spacingAndGlyphs" >M30</text>
<text x="44.8" y="12" font-size="10" fill="#303030" textLength="11.2" lengthAdjust="spacingAndGlyphs" >H1</text>
<text x="71.7" y="12" font-size="10" fill="#303030" textLength="12.0" lengthAdjust="spacingAndGlyphs" >H4</text>
<text x="100.8" y="12" font-size="10" fill="#303030" textLength="11.2" lengthAdjust="spacingAndGlyphs" >D1</text>
<text x="128.1" y="12" font-size="10" fill="#303030" textLength="14.1" lengthAdjust="spacingAndGlyphs" >W1</text>
<text x="154.7" y="12" font-size="10" fill="#303030" textLength="14.5" lengthAdjust="spacingAndGlyphs" >MN</text>
</g>
<g shape-rendering="crispEdges">
<rect x="2" y="601" width="1" height="3" fill="#000"/>
<rect x="66" y="601" width="1" height="3" fill="#000"/>
<rect x="130" y="601" width="1" height="3" fill="#000"/>
<rect x="194" y="601" width="1" height="3" fill="#000"/>
<rect x="258" y="601" width="1" height="3" fill="#000"/>
<rect x="322" y="601" width="1" height="3" fill="#000"/>
<rect x="386" y="601" width="1" height="3" fill="#000"/>
<rect x="450" y="601" width="1" height="3" fill="#000"/>
<rect x="514" y="601" width="1" height="3" fill="#000"/>
<rect x="578" y="601" width="1" height="3" fill="#000"/>
<rect x="642" y="601" width="1" height="3" fill="#000"/>
<rect x="706" y="601" width="1" height="3" fill="#000"/>
<rect x="770" y="601" width="1" height="3" fill="#000"/>
<rect x="834" y="601" width="1" height="3" fill="#000"/>
<rect x="898" y="601" width="1" height="3" fill="#000"/>
</g>
<text x="1.3" y="613" font-size="10" fill="#000" stroke="#000" stroke-width="0.12" textLength="51.3" lengthAdjust="spacingAndGlyphs" >30 Dec 2021</text>
<text x="65.3" y="613" font-size="10" fill="#000" stroke="#000" stroke-width="0.12" textLength="50.1" lengthAdjust="spacingAndGlyphs" >18 Jan 2022</text>
<text x="129.3" y="613" font-size="10" fill="#000" stroke="#000" stroke-width="0.12" textLength="46.5" lengthAdjust="spacingAndGlyphs" >6 Feb 2022</text>
<text x="193.3" y="613" font-size="10" fill="#000" stroke="#000" stroke-width="0.12" textLength="51.8" lengthAdjust="spacingAndGlyphs" >24 Feb 2022</text>
<text x="257.3" y="613" font-size="10" fill="#000" stroke="#000" stroke-width="0.12" textLength="51" lengthAdjust="spacingAndGlyphs" >15 Mar 2022</text>
<text x="321.3" y="613" font-size="10" fill="#000" stroke="#000" stroke-width="0.12" textLength="44.6" lengthAdjust="spacingAndGlyphs" >3 Apr 2022</text>
<text x="385.3" y="613" font-size="10" fill="#000" stroke="#000" stroke-width="0.12" textLength="50.5" lengthAdjust="spacingAndGlyphs" >22 Apr 2022</text>
<text x="449.3" y="613" font-size="10" fill="#000" stroke="#000" stroke-width="0.12" textLength="54" lengthAdjust="spacingAndGlyphs" >11 May 2022</text>
<text x="513.3" y="613" font-size="10" fill="#000" stroke="#000" stroke-width="0.12" textLength="54.3" lengthAdjust="spacingAndGlyphs" >30 May 2022</text>
<text x="577.3" y="613" font-size="10" fill="#000" stroke="#000" stroke-width="0.12" textLength="49" lengthAdjust="spacingAndGlyphs" >17 Jun 2022</text>
<text x="641.3" y="613" font-size="10" fill="#000" stroke="#000" stroke-width="0.12" textLength="41.8" lengthAdjust="spacingAndGlyphs" >6 Jul 2022</text>
<text x="705.3" y="613" font-size="10" fill="#000" stroke="#000" stroke-width="0.12" textLength="47" lengthAdjust="spacingAndGlyphs" >25 Jul 2022</text>
<text x="769.3" y="613" font-size="10" fill="#000" stroke="#000" stroke-width="0.12" textLength="52.5" lengthAdjust="spacingAndGlyphs" >12 Aug 2022</text>
<text x="833.3" y="613" font-size="10" fill="#000" stroke="#000" stroke-width="0.12" textLength="53" lengthAdjust="spacingAndGlyphs" >31 Aug 2022</text>
<text x="897.3" y="613" font-size="10" fill="#000" stroke="#000" stroke-width="0.12" textLength="49.8" lengthAdjust="spacingAndGlyphs" >19 Sep 2022</text>
<g shape-rendering="crispEdges">
<rect x="0" y="621" width="1206" height="1" fill="#e6e6e6"/>
<rect x="0" y="623" width="1206" height="23" fill="#f0f0f0"/>
<rect x="0" y="623" width="1206" height="1" fill="#000"/>
<rect x="0" y="624" width="1206" height="1" fill="#fff"/>
<rect x="0" y="643" width="1206" height="1" fill="#fff"/>
<rect x="816" y="622" width="90" height="19" fill="#fff"/>
<rect x="815" y="623" width="1" height="19" fill="#000"/>
<rect x="906" y="623" width="1" height="19" fill="#000"/>
<rect x="815" y="641" width="92" height="1" fill="#000"/>
<rect x="907" y="624" width="1" height="18" fill="#fff"/>
</g>
<text x="14.7" y="638" font-size="13.5" fill="#606060" textLength="77.1" lengthAdjust="spacingAndGlyphs" >USDX,Weekly</text>
<text x="114" y="638" font-size="13.5" fill="#606060" textLength="85" lengthAdjust="spacingAndGlyphs" >EURUSD-,Daily</text>
<text x="221" y="638" font-size="13.5" fill="#606060" textLength="86.5" lengthAdjust="spacingAndGlyphs" >AUDUSD-,Daily</text>
<text x="331" y="638" font-size="13.5" fill="#606060" textLength="84" lengthAdjust="spacingAndGlyphs" >USDCHF-,Daily</text>
<text x="438" y="638" font-size="13.5" fill="#606060" textLength="86" lengthAdjust="spacingAndGlyphs" >USDCAD-,Daily</text>
<text x="547" y="638" font-size="13.5" fill="#606060" textLength="87" lengthAdjust="spacingAndGlyphs" >USDCNH-,Daily</text>
<text x="657" y="638" font-size="13.5" fill="#606060" textLength="55" lengthAdjust="spacingAndGlyphs" >HK50-,H1</text>
<text x="733" y="638" font-size="13.5" fill="#606060" textLength="70.5" lengthAdjust="spacingAndGlyphs" >EURCHF-,H1</text>
<text x="918.5" y="638" font-size="13.5" fill="#606060" textLength="68.5" lengthAdjust="spacingAndGlyphs" >UKOil-,Daily</text>
<text x="1010" y="638" font-size="13.5" fill="#606060" textLength="86" lengthAdjust="spacingAndGlyphs" >XAUUSD-,Daily</text>
<text x="1118" y="638" font-size="13.5" fill="#606060" textLength="56" lengthAdjust="spacingAndGlyphs" >UKOil-,Da</text>
<text x="827.5" y="638" font-size="13.5" fill="#000" textLength="67" lengthAdjust="spacingAndGlyphs" >USOil-,Daily</text>
<g shape-rendering="crispEdges">
<rect x="103" y="626" width="1" height="14" fill="#707070"/>
<rect x="211" y="626" width="1" height="14" fill="#707070"/>
<rect x="319" y="626" width="1" height="14" fill="#707070"/>
<rect x="427" y="626" width="1" height="14" fill="#707070"/>
<rect x="535" y="626" width="1" height="14" fill="#707070"/>
<rect x="647" y="626" width="1" height="14" fill="#707070"/>
<rect x="723" y="626" width="1" height="14" fill="#707070"/>
<rect x="999" y="626" width="1" height="14" fill="#707070"/>
<rect x="1107" y="626" width="1" height="14" fill="#707070"/>
</g>
<polygon points="1183,628.5 1183,635.5 1179.5,632" fill="#a0a0a0"/>
<polygon points="1199,628.3 1199,635.7 1202.7,632" fill="#000"/>
</svg>
</body></html>
